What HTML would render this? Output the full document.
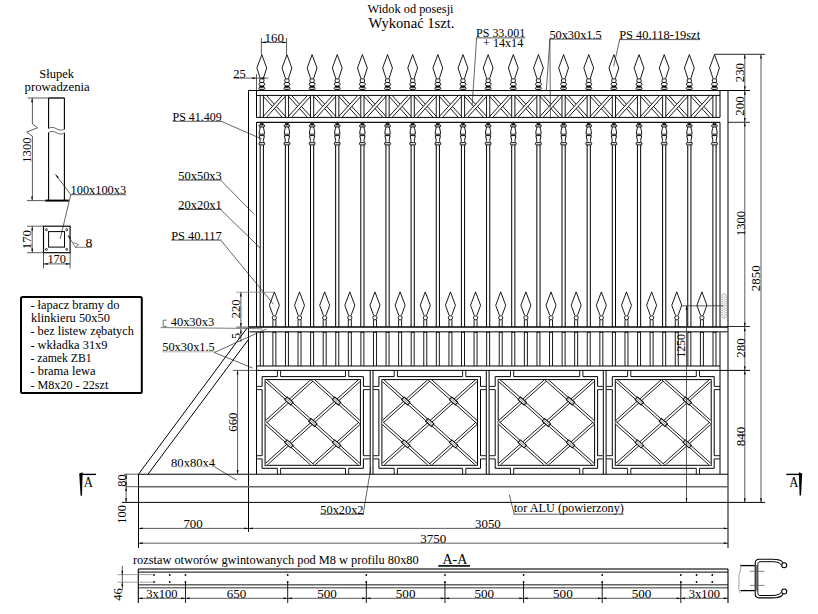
<!DOCTYPE html>
<html><head><meta charset="utf-8"><style>
html,body{margin:0;padding:0;background:#fff;}
svg{display:block;}
</style></head><body>
<svg width="818" height="614" viewBox="0 0 818 614">
<rect x="0" y="0" width="818" height="614" fill="#fff"/>
<text x="410.5" y="13.4" font-family="Liberation Serif" font-size="12" text-anchor="middle" fill="#000" font-weight="normal" textLength="86" lengthAdjust="spacingAndGlyphs">Widok od posesji</text>
<text x="411.5" y="27.9" font-family="Liberation Serif" font-size="15.5" text-anchor="middle" fill="#000" font-weight="normal" textLength="86" lengthAdjust="spacingAndGlyphs">Wykonać 1szt.</text>
<line x1="248.5" y1="90.5" x2="248.5" y2="532" stroke="#000" stroke-width="1"/>
<line x1="256.5" y1="90.5" x2="256.5" y2="117.4" stroke="#000" stroke-width="1"/>
<line x1="256.5" y1="122.3" x2="256.5" y2="327" stroke="#000" stroke-width="1"/>
<line x1="256.5" y1="331.8" x2="256.5" y2="474.2" stroke="#000" stroke-width="1"/>
<line x1="720" y1="90.5" x2="720" y2="117.4" stroke="#000" stroke-width="1"/>
<line x1="720" y1="122.3" x2="720" y2="327" stroke="#000" stroke-width="1"/>
<line x1="720" y1="331.8" x2="720" y2="474.2" stroke="#000" stroke-width="1"/>
<line x1="728" y1="90.5" x2="728" y2="548" stroke="#000" stroke-width="1"/>
<line x1="248.5" y1="90.5" x2="750" y2="90.5" stroke="#000" stroke-width="1"/>
<line x1="256.5" y1="95.4" x2="720" y2="95.4" stroke="#000" stroke-width="1"/>
<line x1="256.5" y1="117.4" x2="720" y2="117.4" stroke="#000" stroke-width="1"/>
<line x1="256.5" y1="122.3" x2="720" y2="122.3" stroke="#111" stroke-width="1.3"/>
<clipPath id="xc1"><rect x="263.4" y="95.9" width="21.95" height="21"/></clipPath>
<g clip-path="url(#xc1)">
<polygon points="261.09,93.91 285.51,120.84 287.66,118.89 263.24,91.96" fill="#fff"/>
<line x1="261.09" y1="93.91" x2="285.51" y2="120.84" stroke="#000" stroke-width="0.9"/>
<line x1="263.24" y1="91.96" x2="287.66" y2="118.89" stroke="#000" stroke-width="0.9"/>
<polygon points="263.24,120.84 287.66,93.91 285.51,91.96 261.09,118.89" fill="#fff"/>
<line x1="263.24" y1="120.84" x2="287.66" y2="93.91" stroke="#000" stroke-width="0.9"/>
<line x1="261.09" y1="118.89" x2="285.51" y2="91.96" stroke="#000" stroke-width="0.9"/>
</g>
<clipPath id="xc2"><rect x="288.55" y="95.9" width="21.95" height="21"/></clipPath>
<g clip-path="url(#xc2)">
<polygon points="286.24,93.91 310.66,120.84 312.81,118.89 288.39,91.96" fill="#fff"/>
<line x1="286.24" y1="93.91" x2="310.66" y2="120.84" stroke="#000" stroke-width="0.9"/>
<line x1="288.39" y1="91.96" x2="312.81" y2="118.89" stroke="#000" stroke-width="0.9"/>
<polygon points="288.39,120.84 312.81,93.91 310.66,91.96 286.24,118.89" fill="#fff"/>
<line x1="288.39" y1="120.84" x2="312.81" y2="93.91" stroke="#000" stroke-width="0.9"/>
<line x1="286.24" y1="118.89" x2="310.66" y2="91.96" stroke="#000" stroke-width="0.9"/>
</g>
<clipPath id="xc3"><rect x="313.7" y="95.9" width="21.95" height="21"/></clipPath>
<g clip-path="url(#xc3)">
<polygon points="311.39,93.91 335.81,120.84 337.96,118.89 313.54,91.96" fill="#fff"/>
<line x1="311.39" y1="93.91" x2="335.81" y2="120.84" stroke="#000" stroke-width="0.9"/>
<line x1="313.54" y1="91.96" x2="337.96" y2="118.89" stroke="#000" stroke-width="0.9"/>
<polygon points="313.54,120.84 337.96,93.91 335.81,91.96 311.39,118.89" fill="#fff"/>
<line x1="313.54" y1="120.84" x2="337.96" y2="93.91" stroke="#000" stroke-width="0.9"/>
<line x1="311.39" y1="118.89" x2="335.81" y2="91.96" stroke="#000" stroke-width="0.9"/>
</g>
<clipPath id="xc4"><rect x="338.85" y="95.9" width="21.95" height="21"/></clipPath>
<g clip-path="url(#xc4)">
<polygon points="336.54,93.91 360.96,120.84 363.11,118.89 338.69,91.96" fill="#fff"/>
<line x1="336.54" y1="93.91" x2="360.96" y2="120.84" stroke="#000" stroke-width="0.9"/>
<line x1="338.69" y1="91.96" x2="363.11" y2="118.89" stroke="#000" stroke-width="0.9"/>
<polygon points="338.69,120.84 363.11,93.91 360.96,91.96 336.54,118.89" fill="#fff"/>
<line x1="338.69" y1="120.84" x2="363.11" y2="93.91" stroke="#000" stroke-width="0.9"/>
<line x1="336.54" y1="118.89" x2="360.96" y2="91.96" stroke="#000" stroke-width="0.9"/>
</g>
<clipPath id="xc5"><rect x="364" y="95.9" width="21.95" height="21"/></clipPath>
<g clip-path="url(#xc5)">
<polygon points="361.69,93.91 386.11,120.84 388.26,118.89 363.84,91.96" fill="#fff"/>
<line x1="361.69" y1="93.91" x2="386.11" y2="120.84" stroke="#000" stroke-width="0.9"/>
<line x1="363.84" y1="91.96" x2="388.26" y2="118.89" stroke="#000" stroke-width="0.9"/>
<polygon points="363.84,120.84 388.26,93.91 386.11,91.96 361.69,118.89" fill="#fff"/>
<line x1="363.84" y1="120.84" x2="388.26" y2="93.91" stroke="#000" stroke-width="0.9"/>
<line x1="361.69" y1="118.89" x2="386.11" y2="91.96" stroke="#000" stroke-width="0.9"/>
</g>
<clipPath id="xc6"><rect x="389.15" y="95.9" width="21.95" height="21"/></clipPath>
<g clip-path="url(#xc6)">
<polygon points="386.84,93.91 411.26,120.84 413.41,118.89 388.99,91.96" fill="#fff"/>
<line x1="386.84" y1="93.91" x2="411.26" y2="120.84" stroke="#000" stroke-width="0.9"/>
<line x1="388.99" y1="91.96" x2="413.41" y2="118.89" stroke="#000" stroke-width="0.9"/>
<polygon points="388.99,120.84 413.41,93.91 411.26,91.96 386.84,118.89" fill="#fff"/>
<line x1="388.99" y1="120.84" x2="413.41" y2="93.91" stroke="#000" stroke-width="0.9"/>
<line x1="386.84" y1="118.89" x2="411.26" y2="91.96" stroke="#000" stroke-width="0.9"/>
</g>
<clipPath id="xc7"><rect x="414.3" y="95.9" width="21.95" height="21"/></clipPath>
<g clip-path="url(#xc7)">
<polygon points="411.99,93.91 436.41,120.84 438.56,118.89 414.14,91.96" fill="#fff"/>
<line x1="411.99" y1="93.91" x2="436.41" y2="120.84" stroke="#000" stroke-width="0.9"/>
<line x1="414.14" y1="91.96" x2="438.56" y2="118.89" stroke="#000" stroke-width="0.9"/>
<polygon points="414.14,120.84 438.56,93.91 436.41,91.96 411.99,118.89" fill="#fff"/>
<line x1="414.14" y1="120.84" x2="438.56" y2="93.91" stroke="#000" stroke-width="0.9"/>
<line x1="411.99" y1="118.89" x2="436.41" y2="91.96" stroke="#000" stroke-width="0.9"/>
</g>
<clipPath id="xc8"><rect x="439.45" y="95.9" width="21.95" height="21"/></clipPath>
<g clip-path="url(#xc8)">
<polygon points="437.14,93.91 461.56,120.84 463.71,118.89 439.29,91.96" fill="#fff"/>
<line x1="437.14" y1="93.91" x2="461.56" y2="120.84" stroke="#000" stroke-width="0.9"/>
<line x1="439.29" y1="91.96" x2="463.71" y2="118.89" stroke="#000" stroke-width="0.9"/>
<polygon points="439.29,120.84 463.71,93.91 461.56,91.96 437.14,118.89" fill="#fff"/>
<line x1="439.29" y1="120.84" x2="463.71" y2="93.91" stroke="#000" stroke-width="0.9"/>
<line x1="437.14" y1="118.89" x2="461.56" y2="91.96" stroke="#000" stroke-width="0.9"/>
</g>
<clipPath id="xc9"><rect x="464.6" y="95.9" width="21.95" height="21"/></clipPath>
<g clip-path="url(#xc9)">
<polygon points="462.29,93.91 486.71,120.84 488.86,118.89 464.44,91.96" fill="#fff"/>
<line x1="462.29" y1="93.91" x2="486.71" y2="120.84" stroke="#000" stroke-width="0.9"/>
<line x1="464.44" y1="91.96" x2="488.86" y2="118.89" stroke="#000" stroke-width="0.9"/>
<polygon points="464.44,120.84 488.86,93.91 486.71,91.96 462.29,118.89" fill="#fff"/>
<line x1="464.44" y1="120.84" x2="488.86" y2="93.91" stroke="#000" stroke-width="0.9"/>
<line x1="462.29" y1="118.89" x2="486.71" y2="91.96" stroke="#000" stroke-width="0.9"/>
</g>
<clipPath id="xc10"><rect x="489.75" y="95.9" width="21.95" height="21"/></clipPath>
<g clip-path="url(#xc10)">
<polygon points="487.44,93.91 511.86,120.84 514.01,118.89 489.59,91.96" fill="#fff"/>
<line x1="487.44" y1="93.91" x2="511.86" y2="120.84" stroke="#000" stroke-width="0.9"/>
<line x1="489.59" y1="91.96" x2="514.01" y2="118.89" stroke="#000" stroke-width="0.9"/>
<polygon points="489.59,120.84 514.01,93.91 511.86,91.96 487.44,118.89" fill="#fff"/>
<line x1="489.59" y1="120.84" x2="514.01" y2="93.91" stroke="#000" stroke-width="0.9"/>
<line x1="487.44" y1="118.89" x2="511.86" y2="91.96" stroke="#000" stroke-width="0.9"/>
</g>
<clipPath id="xc11"><rect x="514.9" y="95.9" width="21.95" height="21"/></clipPath>
<g clip-path="url(#xc11)">
<polygon points="512.59,93.91 537.01,120.84 539.16,118.89 514.74,91.96" fill="#fff"/>
<line x1="512.59" y1="93.91" x2="537.01" y2="120.84" stroke="#000" stroke-width="0.9"/>
<line x1="514.74" y1="91.96" x2="539.16" y2="118.89" stroke="#000" stroke-width="0.9"/>
<polygon points="514.74,120.84 539.16,93.91 537.01,91.96 512.59,118.89" fill="#fff"/>
<line x1="514.74" y1="120.84" x2="539.16" y2="93.91" stroke="#000" stroke-width="0.9"/>
<line x1="512.59" y1="118.89" x2="537.01" y2="91.96" stroke="#000" stroke-width="0.9"/>
</g>
<clipPath id="xc12"><rect x="540.05" y="95.9" width="21.95" height="21"/></clipPath>
<g clip-path="url(#xc12)">
<polygon points="537.74,93.91 562.16,120.84 564.31,118.89 539.89,91.96" fill="#fff"/>
<line x1="537.74" y1="93.91" x2="562.16" y2="120.84" stroke="#000" stroke-width="0.9"/>
<line x1="539.89" y1="91.96" x2="564.31" y2="118.89" stroke="#000" stroke-width="0.9"/>
<polygon points="539.89,120.84 564.31,93.91 562.16,91.96 537.74,118.89" fill="#fff"/>
<line x1="539.89" y1="120.84" x2="564.31" y2="93.91" stroke="#000" stroke-width="0.9"/>
<line x1="537.74" y1="118.89" x2="562.16" y2="91.96" stroke="#000" stroke-width="0.9"/>
</g>
<clipPath id="xc13"><rect x="565.2" y="95.9" width="21.95" height="21"/></clipPath>
<g clip-path="url(#xc13)">
<polygon points="562.89,93.91 587.31,120.84 589.46,118.89 565.04,91.96" fill="#fff"/>
<line x1="562.89" y1="93.91" x2="587.31" y2="120.84" stroke="#000" stroke-width="0.9"/>
<line x1="565.04" y1="91.96" x2="589.46" y2="118.89" stroke="#000" stroke-width="0.9"/>
<polygon points="565.04,120.84 589.46,93.91 587.31,91.96 562.89,118.89" fill="#fff"/>
<line x1="565.04" y1="120.84" x2="589.46" y2="93.91" stroke="#000" stroke-width="0.9"/>
<line x1="562.89" y1="118.89" x2="587.31" y2="91.96" stroke="#000" stroke-width="0.9"/>
</g>
<clipPath id="xc14"><rect x="590.35" y="95.9" width="21.95" height="21"/></clipPath>
<g clip-path="url(#xc14)">
<polygon points="588.04,93.91 612.46,120.84 614.61,118.89 590.19,91.96" fill="#fff"/>
<line x1="588.04" y1="93.91" x2="612.46" y2="120.84" stroke="#000" stroke-width="0.9"/>
<line x1="590.19" y1="91.96" x2="614.61" y2="118.89" stroke="#000" stroke-width="0.9"/>
<polygon points="590.19,120.84 614.61,93.91 612.46,91.96 588.04,118.89" fill="#fff"/>
<line x1="590.19" y1="120.84" x2="614.61" y2="93.91" stroke="#000" stroke-width="0.9"/>
<line x1="588.04" y1="118.89" x2="612.46" y2="91.96" stroke="#000" stroke-width="0.9"/>
</g>
<clipPath id="xc15"><rect x="615.5" y="95.9" width="21.95" height="21"/></clipPath>
<g clip-path="url(#xc15)">
<polygon points="613.19,93.91 637.61,120.84 639.76,118.89 615.34,91.96" fill="#fff"/>
<line x1="613.19" y1="93.91" x2="637.61" y2="120.84" stroke="#000" stroke-width="0.9"/>
<line x1="615.34" y1="91.96" x2="639.76" y2="118.89" stroke="#000" stroke-width="0.9"/>
<polygon points="615.34,120.84 639.76,93.91 637.61,91.96 613.19,118.89" fill="#fff"/>
<line x1="615.34" y1="120.84" x2="639.76" y2="93.91" stroke="#000" stroke-width="0.9"/>
<line x1="613.19" y1="118.89" x2="637.61" y2="91.96" stroke="#000" stroke-width="0.9"/>
</g>
<clipPath id="xc16"><rect x="640.65" y="95.9" width="21.95" height="21"/></clipPath>
<g clip-path="url(#xc16)">
<polygon points="638.34,93.91 662.76,120.84 664.91,118.89 640.49,91.96" fill="#fff"/>
<line x1="638.34" y1="93.91" x2="662.76" y2="120.84" stroke="#000" stroke-width="0.9"/>
<line x1="640.49" y1="91.96" x2="664.91" y2="118.89" stroke="#000" stroke-width="0.9"/>
<polygon points="640.49,120.84 664.91,93.91 662.76,91.96 638.34,118.89" fill="#fff"/>
<line x1="640.49" y1="120.84" x2="664.91" y2="93.91" stroke="#000" stroke-width="0.9"/>
<line x1="638.34" y1="118.89" x2="662.76" y2="91.96" stroke="#000" stroke-width="0.9"/>
</g>
<clipPath id="xc17"><rect x="665.8" y="95.9" width="21.95" height="21"/></clipPath>
<g clip-path="url(#xc17)">
<polygon points="663.49,93.91 687.91,120.84 690.06,118.89 665.64,91.96" fill="#fff"/>
<line x1="663.49" y1="93.91" x2="687.91" y2="120.84" stroke="#000" stroke-width="0.9"/>
<line x1="665.64" y1="91.96" x2="690.06" y2="118.89" stroke="#000" stroke-width="0.9"/>
<polygon points="665.64,120.84 690.06,93.91 687.91,91.96 663.49,118.89" fill="#fff"/>
<line x1="665.64" y1="120.84" x2="690.06" y2="93.91" stroke="#000" stroke-width="0.9"/>
<line x1="663.49" y1="118.89" x2="687.91" y2="91.96" stroke="#000" stroke-width="0.9"/>
</g>
<clipPath id="xc18"><rect x="690.95" y="95.9" width="21.95" height="21"/></clipPath>
<g clip-path="url(#xc18)">
<polygon points="688.64,93.91 713.06,120.84 715.21,118.89 690.79,91.96" fill="#fff"/>
<line x1="688.64" y1="93.91" x2="713.06" y2="120.84" stroke="#000" stroke-width="0.9"/>
<line x1="690.79" y1="91.96" x2="715.21" y2="118.89" stroke="#000" stroke-width="0.9"/>
<polygon points="690.79,120.84 715.21,93.91 713.06,91.96 688.64,118.89" fill="#fff"/>
<line x1="690.79" y1="120.84" x2="715.21" y2="93.91" stroke="#000" stroke-width="0.9"/>
<line x1="688.64" y1="118.89" x2="713.06" y2="91.96" stroke="#000" stroke-width="0.9"/>
</g>
<line x1="260.2" y1="95.4" x2="260.2" y2="117.4" stroke="#000" stroke-width="0.9"/>
<line x1="263.4" y1="95.4" x2="263.4" y2="117.4" stroke="#000" stroke-width="0.9"/>
<line x1="285.35" y1="95.4" x2="285.35" y2="117.4" stroke="#000" stroke-width="0.9"/>
<line x1="288.55" y1="95.4" x2="288.55" y2="117.4" stroke="#000" stroke-width="0.9"/>
<line x1="310.5" y1="95.4" x2="310.5" y2="117.4" stroke="#000" stroke-width="0.9"/>
<line x1="313.7" y1="95.4" x2="313.7" y2="117.4" stroke="#000" stroke-width="0.9"/>
<line x1="335.65" y1="95.4" x2="335.65" y2="117.4" stroke="#000" stroke-width="0.9"/>
<line x1="338.85" y1="95.4" x2="338.85" y2="117.4" stroke="#000" stroke-width="0.9"/>
<line x1="360.8" y1="95.4" x2="360.8" y2="117.4" stroke="#000" stroke-width="0.9"/>
<line x1="364" y1="95.4" x2="364" y2="117.4" stroke="#000" stroke-width="0.9"/>
<line x1="385.95" y1="95.4" x2="385.95" y2="117.4" stroke="#000" stroke-width="0.9"/>
<line x1="389.15" y1="95.4" x2="389.15" y2="117.4" stroke="#000" stroke-width="0.9"/>
<line x1="411.1" y1="95.4" x2="411.1" y2="117.4" stroke="#000" stroke-width="0.9"/>
<line x1="414.3" y1="95.4" x2="414.3" y2="117.4" stroke="#000" stroke-width="0.9"/>
<line x1="436.25" y1="95.4" x2="436.25" y2="117.4" stroke="#000" stroke-width="0.9"/>
<line x1="439.45" y1="95.4" x2="439.45" y2="117.4" stroke="#000" stroke-width="0.9"/>
<line x1="461.4" y1="95.4" x2="461.4" y2="117.4" stroke="#000" stroke-width="0.9"/>
<line x1="464.6" y1="95.4" x2="464.6" y2="117.4" stroke="#000" stroke-width="0.9"/>
<line x1="486.55" y1="95.4" x2="486.55" y2="117.4" stroke="#000" stroke-width="0.9"/>
<line x1="489.75" y1="95.4" x2="489.75" y2="117.4" stroke="#000" stroke-width="0.9"/>
<line x1="511.7" y1="95.4" x2="511.7" y2="117.4" stroke="#000" stroke-width="0.9"/>
<line x1="514.9" y1="95.4" x2="514.9" y2="117.4" stroke="#000" stroke-width="0.9"/>
<line x1="536.85" y1="95.4" x2="536.85" y2="117.4" stroke="#000" stroke-width="0.9"/>
<line x1="540.05" y1="95.4" x2="540.05" y2="117.4" stroke="#000" stroke-width="0.9"/>
<line x1="562" y1="95.4" x2="562" y2="117.4" stroke="#000" stroke-width="0.9"/>
<line x1="565.2" y1="95.4" x2="565.2" y2="117.4" stroke="#000" stroke-width="0.9"/>
<line x1="587.15" y1="95.4" x2="587.15" y2="117.4" stroke="#000" stroke-width="0.9"/>
<line x1="590.35" y1="95.4" x2="590.35" y2="117.4" stroke="#000" stroke-width="0.9"/>
<line x1="612.3" y1="95.4" x2="612.3" y2="117.4" stroke="#000" stroke-width="0.9"/>
<line x1="615.5" y1="95.4" x2="615.5" y2="117.4" stroke="#000" stroke-width="0.9"/>
<line x1="637.45" y1="95.4" x2="637.45" y2="117.4" stroke="#000" stroke-width="0.9"/>
<line x1="640.65" y1="95.4" x2="640.65" y2="117.4" stroke="#000" stroke-width="0.9"/>
<line x1="662.6" y1="95.4" x2="662.6" y2="117.4" stroke="#000" stroke-width="0.9"/>
<line x1="665.8" y1="95.4" x2="665.8" y2="117.4" stroke="#000" stroke-width="0.9"/>
<line x1="687.75" y1="95.4" x2="687.75" y2="117.4" stroke="#000" stroke-width="0.9"/>
<line x1="690.95" y1="95.4" x2="690.95" y2="117.4" stroke="#000" stroke-width="0.9"/>
<line x1="712.9" y1="95.4" x2="712.9" y2="117.4" stroke="#000" stroke-width="0.9"/>
<line x1="716.1" y1="95.4" x2="716.1" y2="117.4" stroke="#000" stroke-width="0.9"/>
<polyline points="260.4,78.8 256.9,68 261.8,54.6 266.7,68 263.2,78.8" fill="none" stroke="#000" stroke-width="0.9"/>
<rect x="259.7" y="78.9" width="4.2" height="3.5" rx="0.9" fill="#fff" stroke="#000" stroke-width="0.9"/>
<ellipse cx="261.8" cy="84.2" rx="3.0" ry="1.8" fill="#fff" stroke="#000" stroke-width="0.9"/>
<rect x="259.5" y="86.0" width="4.6" height="1.3" fill="#000"/>
<rect x="258.8" y="87.3" width="6.0" height="2.0" rx="1" fill="#fff" stroke="#000" stroke-width="0.9"/>
<rect x="259.4" y="89.3" width="4.8" height="1.0" fill="#222"/>
<polyline points="285.55,78.8 282.05,68 286.95,54.6 291.85,68 288.35,78.8" fill="none" stroke="#000" stroke-width="0.9"/>
<rect x="284.85" y="78.9" width="4.2" height="3.5" rx="0.9" fill="#fff" stroke="#000" stroke-width="0.9"/>
<ellipse cx="286.95" cy="84.2" rx="3.0" ry="1.8" fill="#fff" stroke="#000" stroke-width="0.9"/>
<rect x="284.65" y="86.0" width="4.6" height="1.3" fill="#000"/>
<rect x="283.95" y="87.3" width="6.0" height="2.0" rx="1" fill="#fff" stroke="#000" stroke-width="0.9"/>
<rect x="284.55" y="89.3" width="4.8" height="1.0" fill="#222"/>
<polyline points="310.7,78.8 307.2,68 312.1,54.6 317,68 313.5,78.8" fill="none" stroke="#000" stroke-width="0.9"/>
<rect x="310" y="78.9" width="4.2" height="3.5" rx="0.9" fill="#fff" stroke="#000" stroke-width="0.9"/>
<ellipse cx="312.1" cy="84.2" rx="3.0" ry="1.8" fill="#fff" stroke="#000" stroke-width="0.9"/>
<rect x="309.8" y="86.0" width="4.6" height="1.3" fill="#000"/>
<rect x="309.1" y="87.3" width="6.0" height="2.0" rx="1" fill="#fff" stroke="#000" stroke-width="0.9"/>
<rect x="309.7" y="89.3" width="4.8" height="1.0" fill="#222"/>
<polyline points="335.85,78.8 332.35,68 337.25,54.6 342.15,68 338.65,78.8" fill="none" stroke="#000" stroke-width="0.9"/>
<rect x="335.15" y="78.9" width="4.2" height="3.5" rx="0.9" fill="#fff" stroke="#000" stroke-width="0.9"/>
<ellipse cx="337.25" cy="84.2" rx="3.0" ry="1.8" fill="#fff" stroke="#000" stroke-width="0.9"/>
<rect x="334.95" y="86.0" width="4.6" height="1.3" fill="#000"/>
<rect x="334.25" y="87.3" width="6.0" height="2.0" rx="1" fill="#fff" stroke="#000" stroke-width="0.9"/>
<rect x="334.85" y="89.3" width="4.8" height="1.0" fill="#222"/>
<polyline points="361,78.8 357.5,68 362.4,54.6 367.3,68 363.8,78.8" fill="none" stroke="#000" stroke-width="0.9"/>
<rect x="360.3" y="78.9" width="4.2" height="3.5" rx="0.9" fill="#fff" stroke="#000" stroke-width="0.9"/>
<ellipse cx="362.4" cy="84.2" rx="3.0" ry="1.8" fill="#fff" stroke="#000" stroke-width="0.9"/>
<rect x="360.1" y="86.0" width="4.6" height="1.3" fill="#000"/>
<rect x="359.4" y="87.3" width="6.0" height="2.0" rx="1" fill="#fff" stroke="#000" stroke-width="0.9"/>
<rect x="360" y="89.3" width="4.8" height="1.0" fill="#222"/>
<polyline points="386.15,78.8 382.65,68 387.55,54.6 392.45,68 388.95,78.8" fill="none" stroke="#000" stroke-width="0.9"/>
<rect x="385.45" y="78.9" width="4.2" height="3.5" rx="0.9" fill="#fff" stroke="#000" stroke-width="0.9"/>
<ellipse cx="387.55" cy="84.2" rx="3.0" ry="1.8" fill="#fff" stroke="#000" stroke-width="0.9"/>
<rect x="385.25" y="86.0" width="4.6" height="1.3" fill="#000"/>
<rect x="384.55" y="87.3" width="6.0" height="2.0" rx="1" fill="#fff" stroke="#000" stroke-width="0.9"/>
<rect x="385.15" y="89.3" width="4.8" height="1.0" fill="#222"/>
<polyline points="411.3,78.8 407.8,68 412.7,54.6 417.6,68 414.1,78.8" fill="none" stroke="#000" stroke-width="0.9"/>
<rect x="410.6" y="78.9" width="4.2" height="3.5" rx="0.9" fill="#fff" stroke="#000" stroke-width="0.9"/>
<ellipse cx="412.7" cy="84.2" rx="3.0" ry="1.8" fill="#fff" stroke="#000" stroke-width="0.9"/>
<rect x="410.4" y="86.0" width="4.6" height="1.3" fill="#000"/>
<rect x="409.7" y="87.3" width="6.0" height="2.0" rx="1" fill="#fff" stroke="#000" stroke-width="0.9"/>
<rect x="410.3" y="89.3" width="4.8" height="1.0" fill="#222"/>
<polyline points="436.45,78.8 432.95,68 437.85,54.6 442.75,68 439.25,78.8" fill="none" stroke="#000" stroke-width="0.9"/>
<rect x="435.75" y="78.9" width="4.2" height="3.5" rx="0.9" fill="#fff" stroke="#000" stroke-width="0.9"/>
<ellipse cx="437.85" cy="84.2" rx="3.0" ry="1.8" fill="#fff" stroke="#000" stroke-width="0.9"/>
<rect x="435.55" y="86.0" width="4.6" height="1.3" fill="#000"/>
<rect x="434.85" y="87.3" width="6.0" height="2.0" rx="1" fill="#fff" stroke="#000" stroke-width="0.9"/>
<rect x="435.45" y="89.3" width="4.8" height="1.0" fill="#222"/>
<polyline points="461.6,78.8 458.1,68 463,54.6 467.9,68 464.4,78.8" fill="none" stroke="#000" stroke-width="0.9"/>
<rect x="460.9" y="78.9" width="4.2" height="3.5" rx="0.9" fill="#fff" stroke="#000" stroke-width="0.9"/>
<ellipse cx="463" cy="84.2" rx="3.0" ry="1.8" fill="#fff" stroke="#000" stroke-width="0.9"/>
<rect x="460.7" y="86.0" width="4.6" height="1.3" fill="#000"/>
<rect x="460" y="87.3" width="6.0" height="2.0" rx="1" fill="#fff" stroke="#000" stroke-width="0.9"/>
<rect x="460.6" y="89.3" width="4.8" height="1.0" fill="#222"/>
<polyline points="486.75,78.8 483.25,68 488.15,54.6 493.05,68 489.55,78.8" fill="none" stroke="#000" stroke-width="0.9"/>
<rect x="486.05" y="78.9" width="4.2" height="3.5" rx="0.9" fill="#fff" stroke="#000" stroke-width="0.9"/>
<ellipse cx="488.15" cy="84.2" rx="3.0" ry="1.8" fill="#fff" stroke="#000" stroke-width="0.9"/>
<rect x="485.85" y="86.0" width="4.6" height="1.3" fill="#000"/>
<rect x="485.15" y="87.3" width="6.0" height="2.0" rx="1" fill="#fff" stroke="#000" stroke-width="0.9"/>
<rect x="485.75" y="89.3" width="4.8" height="1.0" fill="#222"/>
<polyline points="511.9,78.8 508.4,68 513.3,54.6 518.2,68 514.7,78.8" fill="none" stroke="#000" stroke-width="0.9"/>
<rect x="511.2" y="78.9" width="4.2" height="3.5" rx="0.9" fill="#fff" stroke="#000" stroke-width="0.9"/>
<ellipse cx="513.3" cy="84.2" rx="3.0" ry="1.8" fill="#fff" stroke="#000" stroke-width="0.9"/>
<rect x="511" y="86.0" width="4.6" height="1.3" fill="#000"/>
<rect x="510.3" y="87.3" width="6.0" height="2.0" rx="1" fill="#fff" stroke="#000" stroke-width="0.9"/>
<rect x="510.9" y="89.3" width="4.8" height="1.0" fill="#222"/>
<polyline points="537.05,78.8 533.55,68 538.45,54.6 543.35,68 539.85,78.8" fill="none" stroke="#000" stroke-width="0.9"/>
<rect x="536.35" y="78.9" width="4.2" height="3.5" rx="0.9" fill="#fff" stroke="#000" stroke-width="0.9"/>
<ellipse cx="538.45" cy="84.2" rx="3.0" ry="1.8" fill="#fff" stroke="#000" stroke-width="0.9"/>
<rect x="536.15" y="86.0" width="4.6" height="1.3" fill="#000"/>
<rect x="535.45" y="87.3" width="6.0" height="2.0" rx="1" fill="#fff" stroke="#000" stroke-width="0.9"/>
<rect x="536.05" y="89.3" width="4.8" height="1.0" fill="#222"/>
<polyline points="562.2,78.8 558.7,68 563.6,54.6 568.5,68 565,78.8" fill="none" stroke="#000" stroke-width="0.9"/>
<rect x="561.5" y="78.9" width="4.2" height="3.5" rx="0.9" fill="#fff" stroke="#000" stroke-width="0.9"/>
<ellipse cx="563.6" cy="84.2" rx="3.0" ry="1.8" fill="#fff" stroke="#000" stroke-width="0.9"/>
<rect x="561.3" y="86.0" width="4.6" height="1.3" fill="#000"/>
<rect x="560.6" y="87.3" width="6.0" height="2.0" rx="1" fill="#fff" stroke="#000" stroke-width="0.9"/>
<rect x="561.2" y="89.3" width="4.8" height="1.0" fill="#222"/>
<polyline points="587.35,78.8 583.85,68 588.75,54.6 593.65,68 590.15,78.8" fill="none" stroke="#000" stroke-width="0.9"/>
<rect x="586.65" y="78.9" width="4.2" height="3.5" rx="0.9" fill="#fff" stroke="#000" stroke-width="0.9"/>
<ellipse cx="588.75" cy="84.2" rx="3.0" ry="1.8" fill="#fff" stroke="#000" stroke-width="0.9"/>
<rect x="586.45" y="86.0" width="4.6" height="1.3" fill="#000"/>
<rect x="585.75" y="87.3" width="6.0" height="2.0" rx="1" fill="#fff" stroke="#000" stroke-width="0.9"/>
<rect x="586.35" y="89.3" width="4.8" height="1.0" fill="#222"/>
<polyline points="612.5,78.8 609,68 613.9,54.6 618.8,68 615.3,78.8" fill="none" stroke="#000" stroke-width="0.9"/>
<rect x="611.8" y="78.9" width="4.2" height="3.5" rx="0.9" fill="#fff" stroke="#000" stroke-width="0.9"/>
<ellipse cx="613.9" cy="84.2" rx="3.0" ry="1.8" fill="#fff" stroke="#000" stroke-width="0.9"/>
<rect x="611.6" y="86.0" width="4.6" height="1.3" fill="#000"/>
<rect x="610.9" y="87.3" width="6.0" height="2.0" rx="1" fill="#fff" stroke="#000" stroke-width="0.9"/>
<rect x="611.5" y="89.3" width="4.8" height="1.0" fill="#222"/>
<polyline points="637.65,78.8 634.15,68 639.05,54.6 643.95,68 640.45,78.8" fill="none" stroke="#000" stroke-width="0.9"/>
<rect x="636.95" y="78.9" width="4.2" height="3.5" rx="0.9" fill="#fff" stroke="#000" stroke-width="0.9"/>
<ellipse cx="639.05" cy="84.2" rx="3.0" ry="1.8" fill="#fff" stroke="#000" stroke-width="0.9"/>
<rect x="636.75" y="86.0" width="4.6" height="1.3" fill="#000"/>
<rect x="636.05" y="87.3" width="6.0" height="2.0" rx="1" fill="#fff" stroke="#000" stroke-width="0.9"/>
<rect x="636.65" y="89.3" width="4.8" height="1.0" fill="#222"/>
<polyline points="662.8,78.8 659.3,68 664.2,54.6 669.1,68 665.6,78.8" fill="none" stroke="#000" stroke-width="0.9"/>
<rect x="662.1" y="78.9" width="4.2" height="3.5" rx="0.9" fill="#fff" stroke="#000" stroke-width="0.9"/>
<ellipse cx="664.2" cy="84.2" rx="3.0" ry="1.8" fill="#fff" stroke="#000" stroke-width="0.9"/>
<rect x="661.9" y="86.0" width="4.6" height="1.3" fill="#000"/>
<rect x="661.2" y="87.3" width="6.0" height="2.0" rx="1" fill="#fff" stroke="#000" stroke-width="0.9"/>
<rect x="661.8" y="89.3" width="4.8" height="1.0" fill="#222"/>
<polyline points="687.95,78.8 684.45,68 689.35,54.6 694.25,68 690.75,78.8" fill="none" stroke="#000" stroke-width="0.9"/>
<rect x="687.25" y="78.9" width="4.2" height="3.5" rx="0.9" fill="#fff" stroke="#000" stroke-width="0.9"/>
<ellipse cx="689.35" cy="84.2" rx="3.0" ry="1.8" fill="#fff" stroke="#000" stroke-width="0.9"/>
<rect x="687.05" y="86.0" width="4.6" height="1.3" fill="#000"/>
<rect x="686.35" y="87.3" width="6.0" height="2.0" rx="1" fill="#fff" stroke="#000" stroke-width="0.9"/>
<rect x="686.95" y="89.3" width="4.8" height="1.0" fill="#222"/>
<polyline points="713.1,78.8 709.6,68 714.5,54.6 719.4,68 715.9,78.8" fill="none" stroke="#000" stroke-width="0.9"/>
<rect x="712.4" y="78.9" width="4.2" height="3.5" rx="0.9" fill="#fff" stroke="#000" stroke-width="0.9"/>
<ellipse cx="714.5" cy="84.2" rx="3.0" ry="1.8" fill="#fff" stroke="#000" stroke-width="0.9"/>
<rect x="712.2" y="86.0" width="4.6" height="1.3" fill="#000"/>
<rect x="711.5" y="87.3" width="6.0" height="2.0" rx="1" fill="#fff" stroke="#000" stroke-width="0.9"/>
<rect x="712.1" y="89.3" width="4.8" height="1.0" fill="#222"/>
<rect x="260" y="122.9" width="3.6" height="2.2" fill="#333"/>
<rect x="258.9" y="124.9" width="5.8" height="2.0" rx="1" fill="none" stroke="#000" stroke-width="0.95"/>
<path d="M260.3,126.9 C259.9,129.5 259,131 259.2,134.2 L264.4,134.2 C264.6,131 263.7,129.5 263.3,126.9" fill="none" stroke="#000" stroke-width="0.95"/>
<path d="M259.2,135.6 C259.2,137.5 260.2,138.6 260.2,140.4 C260.2,141.4 259.7,142 259.4,142.7 M264.4,135.6 C264.4,137.5 263.4,138.6 263.4,140.4 C263.4,141.4 263.9,142 264.2,142.7" fill="none" stroke="#000" stroke-width="0.95"/>
<line x1="259.2" y1="135.6" x2="264.4" y2="135.6" stroke="#000" stroke-width="0.95"/>
<rect x="258.8" y="142.7" width="6.0" height="2.2" rx="1.1" fill="none" stroke="#000" stroke-width="0.95"/>
<line x1="260.2" y1="144.9" x2="260.2" y2="327" stroke="#000" stroke-width="1"/>
<line x1="263.4" y1="144.9" x2="263.4" y2="327" stroke="#000" stroke-width="1"/>
<rect x="285.15" y="122.9" width="3.6" height="2.2" fill="#333"/>
<rect x="284.05" y="124.9" width="5.8" height="2.0" rx="1" fill="none" stroke="#000" stroke-width="0.95"/>
<path d="M285.45,126.9 C285.05,129.5 284.15,131 284.35,134.2 L289.55,134.2 C289.75,131 288.85,129.5 288.45,126.9" fill="none" stroke="#000" stroke-width="0.95"/>
<path d="M284.35,135.6 C284.35,137.5 285.35,138.6 285.35,140.4 C285.35,141.4 284.85,142 284.55,142.7 M289.55,135.6 C289.55,137.5 288.55,138.6 288.55,140.4 C288.55,141.4 289.05,142 289.35,142.7" fill="none" stroke="#000" stroke-width="0.95"/>
<line x1="284.35" y1="135.6" x2="289.55" y2="135.6" stroke="#000" stroke-width="0.95"/>
<rect x="283.95" y="142.7" width="6.0" height="2.2" rx="1.1" fill="none" stroke="#000" stroke-width="0.95"/>
<line x1="285.35" y1="144.9" x2="285.35" y2="327" stroke="#000" stroke-width="1"/>
<line x1="288.55" y1="144.9" x2="288.55" y2="327" stroke="#000" stroke-width="1"/>
<rect x="310.3" y="122.9" width="3.6" height="2.2" fill="#333"/>
<rect x="309.2" y="124.9" width="5.8" height="2.0" rx="1" fill="none" stroke="#000" stroke-width="0.95"/>
<path d="M310.6,126.9 C310.2,129.5 309.3,131 309.5,134.2 L314.7,134.2 C314.9,131 314,129.5 313.6,126.9" fill="none" stroke="#000" stroke-width="0.95"/>
<path d="M309.5,135.6 C309.5,137.5 310.5,138.6 310.5,140.4 C310.5,141.4 310,142 309.7,142.7 M314.7,135.6 C314.7,137.5 313.7,138.6 313.7,140.4 C313.7,141.4 314.2,142 314.5,142.7" fill="none" stroke="#000" stroke-width="0.95"/>
<line x1="309.5" y1="135.6" x2="314.7" y2="135.6" stroke="#000" stroke-width="0.95"/>
<rect x="309.1" y="142.7" width="6.0" height="2.2" rx="1.1" fill="none" stroke="#000" stroke-width="0.95"/>
<line x1="310.5" y1="144.9" x2="310.5" y2="327" stroke="#000" stroke-width="1"/>
<line x1="313.7" y1="144.9" x2="313.7" y2="327" stroke="#000" stroke-width="1"/>
<rect x="335.45" y="122.9" width="3.6" height="2.2" fill="#333"/>
<rect x="334.35" y="124.9" width="5.8" height="2.0" rx="1" fill="none" stroke="#000" stroke-width="0.95"/>
<path d="M335.75,126.9 C335.35,129.5 334.45,131 334.65,134.2 L339.85,134.2 C340.05,131 339.15,129.5 338.75,126.9" fill="none" stroke="#000" stroke-width="0.95"/>
<path d="M334.65,135.6 C334.65,137.5 335.65,138.6 335.65,140.4 C335.65,141.4 335.15,142 334.85,142.7 M339.85,135.6 C339.85,137.5 338.85,138.6 338.85,140.4 C338.85,141.4 339.35,142 339.65,142.7" fill="none" stroke="#000" stroke-width="0.95"/>
<line x1="334.65" y1="135.6" x2="339.85" y2="135.6" stroke="#000" stroke-width="0.95"/>
<rect x="334.25" y="142.7" width="6.0" height="2.2" rx="1.1" fill="none" stroke="#000" stroke-width="0.95"/>
<line x1="335.65" y1="144.9" x2="335.65" y2="327" stroke="#000" stroke-width="1"/>
<line x1="338.85" y1="144.9" x2="338.85" y2="327" stroke="#000" stroke-width="1"/>
<rect x="360.6" y="122.9" width="3.6" height="2.2" fill="#333"/>
<rect x="359.5" y="124.9" width="5.8" height="2.0" rx="1" fill="none" stroke="#000" stroke-width="0.95"/>
<path d="M360.9,126.9 C360.5,129.5 359.6,131 359.8,134.2 L365,134.2 C365.2,131 364.3,129.5 363.9,126.9" fill="none" stroke="#000" stroke-width="0.95"/>
<path d="M359.8,135.6 C359.8,137.5 360.8,138.6 360.8,140.4 C360.8,141.4 360.3,142 360,142.7 M365,135.6 C365,137.5 364,138.6 364,140.4 C364,141.4 364.5,142 364.8,142.7" fill="none" stroke="#000" stroke-width="0.95"/>
<line x1="359.8" y1="135.6" x2="365" y2="135.6" stroke="#000" stroke-width="0.95"/>
<rect x="359.4" y="142.7" width="6.0" height="2.2" rx="1.1" fill="none" stroke="#000" stroke-width="0.95"/>
<line x1="360.8" y1="144.9" x2="360.8" y2="327" stroke="#000" stroke-width="1"/>
<line x1="364" y1="144.9" x2="364" y2="327" stroke="#000" stroke-width="1"/>
<rect x="385.75" y="122.9" width="3.6" height="2.2" fill="#333"/>
<rect x="384.65" y="124.9" width="5.8" height="2.0" rx="1" fill="none" stroke="#000" stroke-width="0.95"/>
<path d="M386.05,126.9 C385.65,129.5 384.75,131 384.95,134.2 L390.15,134.2 C390.35,131 389.45,129.5 389.05,126.9" fill="none" stroke="#000" stroke-width="0.95"/>
<path d="M384.95,135.6 C384.95,137.5 385.95,138.6 385.95,140.4 C385.95,141.4 385.45,142 385.15,142.7 M390.15,135.6 C390.15,137.5 389.15,138.6 389.15,140.4 C389.15,141.4 389.65,142 389.95,142.7" fill="none" stroke="#000" stroke-width="0.95"/>
<line x1="384.95" y1="135.6" x2="390.15" y2="135.6" stroke="#000" stroke-width="0.95"/>
<rect x="384.55" y="142.7" width="6.0" height="2.2" rx="1.1" fill="none" stroke="#000" stroke-width="0.95"/>
<line x1="385.95" y1="144.9" x2="385.95" y2="327" stroke="#000" stroke-width="1"/>
<line x1="389.15" y1="144.9" x2="389.15" y2="327" stroke="#000" stroke-width="1"/>
<rect x="410.9" y="122.9" width="3.6" height="2.2" fill="#333"/>
<rect x="409.8" y="124.9" width="5.8" height="2.0" rx="1" fill="none" stroke="#000" stroke-width="0.95"/>
<path d="M411.2,126.9 C410.8,129.5 409.9,131 410.1,134.2 L415.3,134.2 C415.5,131 414.6,129.5 414.2,126.9" fill="none" stroke="#000" stroke-width="0.95"/>
<path d="M410.1,135.6 C410.1,137.5 411.1,138.6 411.1,140.4 C411.1,141.4 410.6,142 410.3,142.7 M415.3,135.6 C415.3,137.5 414.3,138.6 414.3,140.4 C414.3,141.4 414.8,142 415.1,142.7" fill="none" stroke="#000" stroke-width="0.95"/>
<line x1="410.1" y1="135.6" x2="415.3" y2="135.6" stroke="#000" stroke-width="0.95"/>
<rect x="409.7" y="142.7" width="6.0" height="2.2" rx="1.1" fill="none" stroke="#000" stroke-width="0.95"/>
<line x1="411.1" y1="144.9" x2="411.1" y2="327" stroke="#000" stroke-width="1"/>
<line x1="414.3" y1="144.9" x2="414.3" y2="327" stroke="#000" stroke-width="1"/>
<rect x="436.05" y="122.9" width="3.6" height="2.2" fill="#333"/>
<rect x="434.95" y="124.9" width="5.8" height="2.0" rx="1" fill="none" stroke="#000" stroke-width="0.95"/>
<path d="M436.35,126.9 C435.95,129.5 435.05,131 435.25,134.2 L440.45,134.2 C440.65,131 439.75,129.5 439.35,126.9" fill="none" stroke="#000" stroke-width="0.95"/>
<path d="M435.25,135.6 C435.25,137.5 436.25,138.6 436.25,140.4 C436.25,141.4 435.75,142 435.45,142.7 M440.45,135.6 C440.45,137.5 439.45,138.6 439.45,140.4 C439.45,141.4 439.95,142 440.25,142.7" fill="none" stroke="#000" stroke-width="0.95"/>
<line x1="435.25" y1="135.6" x2="440.45" y2="135.6" stroke="#000" stroke-width="0.95"/>
<rect x="434.85" y="142.7" width="6.0" height="2.2" rx="1.1" fill="none" stroke="#000" stroke-width="0.95"/>
<line x1="436.25" y1="144.9" x2="436.25" y2="327" stroke="#000" stroke-width="1"/>
<line x1="439.45" y1="144.9" x2="439.45" y2="327" stroke="#000" stroke-width="1"/>
<rect x="461.2" y="122.9" width="3.6" height="2.2" fill="#333"/>
<rect x="460.1" y="124.9" width="5.8" height="2.0" rx="1" fill="none" stroke="#000" stroke-width="0.95"/>
<path d="M461.5,126.9 C461.1,129.5 460.2,131 460.4,134.2 L465.6,134.2 C465.8,131 464.9,129.5 464.5,126.9" fill="none" stroke="#000" stroke-width="0.95"/>
<path d="M460.4,135.6 C460.4,137.5 461.4,138.6 461.4,140.4 C461.4,141.4 460.9,142 460.6,142.7 M465.6,135.6 C465.6,137.5 464.6,138.6 464.6,140.4 C464.6,141.4 465.1,142 465.4,142.7" fill="none" stroke="#000" stroke-width="0.95"/>
<line x1="460.4" y1="135.6" x2="465.6" y2="135.6" stroke="#000" stroke-width="0.95"/>
<rect x="460" y="142.7" width="6.0" height="2.2" rx="1.1" fill="none" stroke="#000" stroke-width="0.95"/>
<line x1="461.4" y1="144.9" x2="461.4" y2="327" stroke="#000" stroke-width="1"/>
<line x1="464.6" y1="144.9" x2="464.6" y2="327" stroke="#000" stroke-width="1"/>
<rect x="486.35" y="122.9" width="3.6" height="2.2" fill="#333"/>
<rect x="485.25" y="124.9" width="5.8" height="2.0" rx="1" fill="none" stroke="#000" stroke-width="0.95"/>
<path d="M486.65,126.9 C486.25,129.5 485.35,131 485.55,134.2 L490.75,134.2 C490.95,131 490.05,129.5 489.65,126.9" fill="none" stroke="#000" stroke-width="0.95"/>
<path d="M485.55,135.6 C485.55,137.5 486.55,138.6 486.55,140.4 C486.55,141.4 486.05,142 485.75,142.7 M490.75,135.6 C490.75,137.5 489.75,138.6 489.75,140.4 C489.75,141.4 490.25,142 490.55,142.7" fill="none" stroke="#000" stroke-width="0.95"/>
<line x1="485.55" y1="135.6" x2="490.75" y2="135.6" stroke="#000" stroke-width="0.95"/>
<rect x="485.15" y="142.7" width="6.0" height="2.2" rx="1.1" fill="none" stroke="#000" stroke-width="0.95"/>
<line x1="486.55" y1="144.9" x2="486.55" y2="327" stroke="#000" stroke-width="1"/>
<line x1="489.75" y1="144.9" x2="489.75" y2="327" stroke="#000" stroke-width="1"/>
<rect x="511.5" y="122.9" width="3.6" height="2.2" fill="#333"/>
<rect x="510.4" y="124.9" width="5.8" height="2.0" rx="1" fill="none" stroke="#000" stroke-width="0.95"/>
<path d="M511.8,126.9 C511.4,129.5 510.5,131 510.7,134.2 L515.9,134.2 C516.1,131 515.2,129.5 514.8,126.9" fill="none" stroke="#000" stroke-width="0.95"/>
<path d="M510.7,135.6 C510.7,137.5 511.7,138.6 511.7,140.4 C511.7,141.4 511.2,142 510.9,142.7 M515.9,135.6 C515.9,137.5 514.9,138.6 514.9,140.4 C514.9,141.4 515.4,142 515.7,142.7" fill="none" stroke="#000" stroke-width="0.95"/>
<line x1="510.7" y1="135.6" x2="515.9" y2="135.6" stroke="#000" stroke-width="0.95"/>
<rect x="510.3" y="142.7" width="6.0" height="2.2" rx="1.1" fill="none" stroke="#000" stroke-width="0.95"/>
<line x1="511.7" y1="144.9" x2="511.7" y2="327" stroke="#000" stroke-width="1"/>
<line x1="514.9" y1="144.9" x2="514.9" y2="327" stroke="#000" stroke-width="1"/>
<rect x="536.65" y="122.9" width="3.6" height="2.2" fill="#333"/>
<rect x="535.55" y="124.9" width="5.8" height="2.0" rx="1" fill="none" stroke="#000" stroke-width="0.95"/>
<path d="M536.95,126.9 C536.55,129.5 535.65,131 535.85,134.2 L541.05,134.2 C541.25,131 540.35,129.5 539.95,126.9" fill="none" stroke="#000" stroke-width="0.95"/>
<path d="M535.85,135.6 C535.85,137.5 536.85,138.6 536.85,140.4 C536.85,141.4 536.35,142 536.05,142.7 M541.05,135.6 C541.05,137.5 540.05,138.6 540.05,140.4 C540.05,141.4 540.55,142 540.85,142.7" fill="none" stroke="#000" stroke-width="0.95"/>
<line x1="535.85" y1="135.6" x2="541.05" y2="135.6" stroke="#000" stroke-width="0.95"/>
<rect x="535.45" y="142.7" width="6.0" height="2.2" rx="1.1" fill="none" stroke="#000" stroke-width="0.95"/>
<line x1="536.85" y1="144.9" x2="536.85" y2="327" stroke="#000" stroke-width="1"/>
<line x1="540.05" y1="144.9" x2="540.05" y2="327" stroke="#000" stroke-width="1"/>
<rect x="561.8" y="122.9" width="3.6" height="2.2" fill="#333"/>
<rect x="560.7" y="124.9" width="5.8" height="2.0" rx="1" fill="none" stroke="#000" stroke-width="0.95"/>
<path d="M562.1,126.9 C561.7,129.5 560.8,131 561,134.2 L566.2,134.2 C566.4,131 565.5,129.5 565.1,126.9" fill="none" stroke="#000" stroke-width="0.95"/>
<path d="M561,135.6 C561,137.5 562,138.6 562,140.4 C562,141.4 561.5,142 561.2,142.7 M566.2,135.6 C566.2,137.5 565.2,138.6 565.2,140.4 C565.2,141.4 565.7,142 566,142.7" fill="none" stroke="#000" stroke-width="0.95"/>
<line x1="561" y1="135.6" x2="566.2" y2="135.6" stroke="#000" stroke-width="0.95"/>
<rect x="560.6" y="142.7" width="6.0" height="2.2" rx="1.1" fill="none" stroke="#000" stroke-width="0.95"/>
<line x1="562" y1="144.9" x2="562" y2="327" stroke="#000" stroke-width="1"/>
<line x1="565.2" y1="144.9" x2="565.2" y2="327" stroke="#000" stroke-width="1"/>
<rect x="586.95" y="122.9" width="3.6" height="2.2" fill="#333"/>
<rect x="585.85" y="124.9" width="5.8" height="2.0" rx="1" fill="none" stroke="#000" stroke-width="0.95"/>
<path d="M587.25,126.9 C586.85,129.5 585.95,131 586.15,134.2 L591.35,134.2 C591.55,131 590.65,129.5 590.25,126.9" fill="none" stroke="#000" stroke-width="0.95"/>
<path d="M586.15,135.6 C586.15,137.5 587.15,138.6 587.15,140.4 C587.15,141.4 586.65,142 586.35,142.7 M591.35,135.6 C591.35,137.5 590.35,138.6 590.35,140.4 C590.35,141.4 590.85,142 591.15,142.7" fill="none" stroke="#000" stroke-width="0.95"/>
<line x1="586.15" y1="135.6" x2="591.35" y2="135.6" stroke="#000" stroke-width="0.95"/>
<rect x="585.75" y="142.7" width="6.0" height="2.2" rx="1.1" fill="none" stroke="#000" stroke-width="0.95"/>
<line x1="587.15" y1="144.9" x2="587.15" y2="327" stroke="#000" stroke-width="1"/>
<line x1="590.35" y1="144.9" x2="590.35" y2="327" stroke="#000" stroke-width="1"/>
<rect x="612.1" y="122.9" width="3.6" height="2.2" fill="#333"/>
<rect x="611" y="124.9" width="5.8" height="2.0" rx="1" fill="none" stroke="#000" stroke-width="0.95"/>
<path d="M612.4,126.9 C612,129.5 611.1,131 611.3,134.2 L616.5,134.2 C616.7,131 615.8,129.5 615.4,126.9" fill="none" stroke="#000" stroke-width="0.95"/>
<path d="M611.3,135.6 C611.3,137.5 612.3,138.6 612.3,140.4 C612.3,141.4 611.8,142 611.5,142.7 M616.5,135.6 C616.5,137.5 615.5,138.6 615.5,140.4 C615.5,141.4 616,142 616.3,142.7" fill="none" stroke="#000" stroke-width="0.95"/>
<line x1="611.3" y1="135.6" x2="616.5" y2="135.6" stroke="#000" stroke-width="0.95"/>
<rect x="610.9" y="142.7" width="6.0" height="2.2" rx="1.1" fill="none" stroke="#000" stroke-width="0.95"/>
<line x1="612.3" y1="144.9" x2="612.3" y2="327" stroke="#000" stroke-width="1"/>
<line x1="615.5" y1="144.9" x2="615.5" y2="327" stroke="#000" stroke-width="1"/>
<rect x="637.25" y="122.9" width="3.6" height="2.2" fill="#333"/>
<rect x="636.15" y="124.9" width="5.8" height="2.0" rx="1" fill="none" stroke="#000" stroke-width="0.95"/>
<path d="M637.55,126.9 C637.15,129.5 636.25,131 636.45,134.2 L641.65,134.2 C641.85,131 640.95,129.5 640.55,126.9" fill="none" stroke="#000" stroke-width="0.95"/>
<path d="M636.45,135.6 C636.45,137.5 637.45,138.6 637.45,140.4 C637.45,141.4 636.95,142 636.65,142.7 M641.65,135.6 C641.65,137.5 640.65,138.6 640.65,140.4 C640.65,141.4 641.15,142 641.45,142.7" fill="none" stroke="#000" stroke-width="0.95"/>
<line x1="636.45" y1="135.6" x2="641.65" y2="135.6" stroke="#000" stroke-width="0.95"/>
<rect x="636.05" y="142.7" width="6.0" height="2.2" rx="1.1" fill="none" stroke="#000" stroke-width="0.95"/>
<line x1="637.45" y1="144.9" x2="637.45" y2="327" stroke="#000" stroke-width="1"/>
<line x1="640.65" y1="144.9" x2="640.65" y2="327" stroke="#000" stroke-width="1"/>
<rect x="662.4" y="122.9" width="3.6" height="2.2" fill="#333"/>
<rect x="661.3" y="124.9" width="5.8" height="2.0" rx="1" fill="none" stroke="#000" stroke-width="0.95"/>
<path d="M662.7,126.9 C662.3,129.5 661.4,131 661.6,134.2 L666.8,134.2 C667,131 666.1,129.5 665.7,126.9" fill="none" stroke="#000" stroke-width="0.95"/>
<path d="M661.6,135.6 C661.6,137.5 662.6,138.6 662.6,140.4 C662.6,141.4 662.1,142 661.8,142.7 M666.8,135.6 C666.8,137.5 665.8,138.6 665.8,140.4 C665.8,141.4 666.3,142 666.6,142.7" fill="none" stroke="#000" stroke-width="0.95"/>
<line x1="661.6" y1="135.6" x2="666.8" y2="135.6" stroke="#000" stroke-width="0.95"/>
<rect x="661.2" y="142.7" width="6.0" height="2.2" rx="1.1" fill="none" stroke="#000" stroke-width="0.95"/>
<line x1="662.6" y1="144.9" x2="662.6" y2="327" stroke="#000" stroke-width="1"/>
<line x1="665.8" y1="144.9" x2="665.8" y2="327" stroke="#000" stroke-width="1"/>
<rect x="687.55" y="122.9" width="3.6" height="2.2" fill="#333"/>
<rect x="686.45" y="124.9" width="5.8" height="2.0" rx="1" fill="none" stroke="#000" stroke-width="0.95"/>
<path d="M687.85,126.9 C687.45,129.5 686.55,131 686.75,134.2 L691.95,134.2 C692.15,131 691.25,129.5 690.85,126.9" fill="none" stroke="#000" stroke-width="0.95"/>
<path d="M686.75,135.6 C686.75,137.5 687.75,138.6 687.75,140.4 C687.75,141.4 687.25,142 686.95,142.7 M691.95,135.6 C691.95,137.5 690.95,138.6 690.95,140.4 C690.95,141.4 691.45,142 691.75,142.7" fill="none" stroke="#000" stroke-width="0.95"/>
<line x1="686.75" y1="135.6" x2="691.95" y2="135.6" stroke="#000" stroke-width="0.95"/>
<rect x="686.35" y="142.7" width="6.0" height="2.2" rx="1.1" fill="none" stroke="#000" stroke-width="0.95"/>
<line x1="687.75" y1="144.9" x2="687.75" y2="327" stroke="#000" stroke-width="1"/>
<line x1="690.95" y1="144.9" x2="690.95" y2="327" stroke="#000" stroke-width="1"/>
<rect x="712.7" y="122.9" width="3.6" height="2.2" fill="#333"/>
<rect x="711.6" y="124.9" width="5.8" height="2.0" rx="1" fill="none" stroke="#000" stroke-width="0.95"/>
<path d="M713,126.9 C712.6,129.5 711.7,131 711.9,134.2 L717.1,134.2 C717.3,131 716.4,129.5 716,126.9" fill="none" stroke="#000" stroke-width="0.95"/>
<path d="M711.9,135.6 C711.9,137.5 712.9,138.6 712.9,140.4 C712.9,141.4 712.4,142 712.1,142.7 M717.1,135.6 C717.1,137.5 716.1,138.6 716.1,140.4 C716.1,141.4 716.6,142 716.9,142.7" fill="none" stroke="#000" stroke-width="0.95"/>
<line x1="711.9" y1="135.6" x2="717.1" y2="135.6" stroke="#000" stroke-width="0.95"/>
<rect x="711.5" y="142.7" width="6.0" height="2.2" rx="1.1" fill="none" stroke="#000" stroke-width="0.95"/>
<line x1="712.9" y1="144.9" x2="712.9" y2="327" stroke="#000" stroke-width="1"/>
<line x1="716.1" y1="144.9" x2="716.1" y2="327" stroke="#000" stroke-width="1"/>
<polyline points="273.07,315.4 269.38,305.3 274.38,291.9 279.38,305.3 275.68,315.4" fill="none" stroke="#000" stroke-width="0.9"/>
<circle cx="274.38" cy="317.8" r="2.1" fill="none" stroke="#000" stroke-width="0.9"/>
<line x1="272.88" y1="319.9" x2="272.88" y2="327" stroke="#000" stroke-width="0.9"/>
<line x1="275.88" y1="319.9" x2="275.88" y2="327" stroke="#000" stroke-width="0.9"/>
<polyline points="298.22,315.4 294.52,305.3 299.52,291.9 304.52,305.3 300.82,315.4" fill="none" stroke="#000" stroke-width="0.9"/>
<circle cx="299.52" cy="317.8" r="2.1" fill="none" stroke="#000" stroke-width="0.9"/>
<line x1="298.02" y1="319.9" x2="298.02" y2="327" stroke="#000" stroke-width="0.9"/>
<line x1="301.02" y1="319.9" x2="301.02" y2="327" stroke="#000" stroke-width="0.9"/>
<polyline points="323.38,315.4 319.68,305.3 324.68,291.9 329.68,305.3 325.98,315.4" fill="none" stroke="#000" stroke-width="0.9"/>
<circle cx="324.68" cy="317.8" r="2.1" fill="none" stroke="#000" stroke-width="0.9"/>
<line x1="323.18" y1="319.9" x2="323.18" y2="327" stroke="#000" stroke-width="0.9"/>
<line x1="326.18" y1="319.9" x2="326.18" y2="327" stroke="#000" stroke-width="0.9"/>
<polyline points="348.52,315.4 344.82,305.3 349.82,291.9 354.82,305.3 351.12,315.4" fill="none" stroke="#000" stroke-width="0.9"/>
<circle cx="349.82" cy="317.8" r="2.1" fill="none" stroke="#000" stroke-width="0.9"/>
<line x1="348.32" y1="319.9" x2="348.32" y2="327" stroke="#000" stroke-width="0.9"/>
<line x1="351.32" y1="319.9" x2="351.32" y2="327" stroke="#000" stroke-width="0.9"/>
<polyline points="373.67,315.4 369.97,305.3 374.97,291.9 379.97,305.3 376.27,315.4" fill="none" stroke="#000" stroke-width="0.9"/>
<circle cx="374.97" cy="317.8" r="2.1" fill="none" stroke="#000" stroke-width="0.9"/>
<line x1="373.47" y1="319.9" x2="373.47" y2="327" stroke="#000" stroke-width="0.9"/>
<line x1="376.47" y1="319.9" x2="376.47" y2="327" stroke="#000" stroke-width="0.9"/>
<polyline points="398.82,315.4 395.12,305.3 400.12,291.9 405.12,305.3 401.43,315.4" fill="none" stroke="#000" stroke-width="0.9"/>
<circle cx="400.12" cy="317.8" r="2.1" fill="none" stroke="#000" stroke-width="0.9"/>
<line x1="398.62" y1="319.9" x2="398.62" y2="327" stroke="#000" stroke-width="0.9"/>
<line x1="401.62" y1="319.9" x2="401.62" y2="327" stroke="#000" stroke-width="0.9"/>
<polyline points="423.97,315.4 420.27,305.3 425.27,291.9 430.27,305.3 426.57,315.4" fill="none" stroke="#000" stroke-width="0.9"/>
<circle cx="425.27" cy="317.8" r="2.1" fill="none" stroke="#000" stroke-width="0.9"/>
<line x1="423.77" y1="319.9" x2="423.77" y2="327" stroke="#000" stroke-width="0.9"/>
<line x1="426.77" y1="319.9" x2="426.77" y2="327" stroke="#000" stroke-width="0.9"/>
<polyline points="449.12,315.4 445.43,305.3 450.43,291.9 455.43,305.3 451.73,315.4" fill="none" stroke="#000" stroke-width="0.9"/>
<circle cx="450.43" cy="317.8" r="2.1" fill="none" stroke="#000" stroke-width="0.9"/>
<line x1="448.93" y1="319.9" x2="448.93" y2="327" stroke="#000" stroke-width="0.9"/>
<line x1="451.93" y1="319.9" x2="451.93" y2="327" stroke="#000" stroke-width="0.9"/>
<polyline points="474.27,315.4 470.57,305.3 475.57,291.9 480.57,305.3 476.88,315.4" fill="none" stroke="#000" stroke-width="0.9"/>
<circle cx="475.57" cy="317.8" r="2.1" fill="none" stroke="#000" stroke-width="0.9"/>
<line x1="474.07" y1="319.9" x2="474.07" y2="327" stroke="#000" stroke-width="0.9"/>
<line x1="477.07" y1="319.9" x2="477.07" y2="327" stroke="#000" stroke-width="0.9"/>
<polyline points="499.42,315.4 495.72,305.3 500.72,291.9 505.72,305.3 502.02,315.4" fill="none" stroke="#000" stroke-width="0.9"/>
<circle cx="500.72" cy="317.8" r="2.1" fill="none" stroke="#000" stroke-width="0.9"/>
<line x1="499.22" y1="319.9" x2="499.22" y2="327" stroke="#000" stroke-width="0.9"/>
<line x1="502.22" y1="319.9" x2="502.22" y2="327" stroke="#000" stroke-width="0.9"/>
<polyline points="524.58,315.4 520.88,305.3 525.88,291.9 530.88,305.3 527.17,315.4" fill="none" stroke="#000" stroke-width="0.9"/>
<circle cx="525.88" cy="317.8" r="2.1" fill="none" stroke="#000" stroke-width="0.9"/>
<line x1="524.38" y1="319.9" x2="524.38" y2="327" stroke="#000" stroke-width="0.9"/>
<line x1="527.38" y1="319.9" x2="527.38" y2="327" stroke="#000" stroke-width="0.9"/>
<polyline points="549.73,315.4 546.03,305.3 551.03,291.9 556.03,305.3 552.33,315.4" fill="none" stroke="#000" stroke-width="0.9"/>
<circle cx="551.03" cy="317.8" r="2.1" fill="none" stroke="#000" stroke-width="0.9"/>
<line x1="549.53" y1="319.9" x2="549.53" y2="327" stroke="#000" stroke-width="0.9"/>
<line x1="552.53" y1="319.9" x2="552.53" y2="327" stroke="#000" stroke-width="0.9"/>
<polyline points="574.88,315.4 571.17,305.3 576.17,291.9 581.17,305.3 577.47,315.4" fill="none" stroke="#000" stroke-width="0.9"/>
<circle cx="576.17" cy="317.8" r="2.1" fill="none" stroke="#000" stroke-width="0.9"/>
<line x1="574.67" y1="319.9" x2="574.67" y2="327" stroke="#000" stroke-width="0.9"/>
<line x1="577.67" y1="319.9" x2="577.67" y2="327" stroke="#000" stroke-width="0.9"/>
<polyline points="600.03,315.4 596.33,305.3 601.33,291.9 606.33,305.3 602.62,315.4" fill="none" stroke="#000" stroke-width="0.9"/>
<circle cx="601.33" cy="317.8" r="2.1" fill="none" stroke="#000" stroke-width="0.9"/>
<line x1="599.83" y1="319.9" x2="599.83" y2="327" stroke="#000" stroke-width="0.9"/>
<line x1="602.83" y1="319.9" x2="602.83" y2="327" stroke="#000" stroke-width="0.9"/>
<polyline points="625.18,315.4 621.48,305.3 626.48,291.9 631.48,305.3 627.77,315.4" fill="none" stroke="#000" stroke-width="0.9"/>
<circle cx="626.48" cy="317.8" r="2.1" fill="none" stroke="#000" stroke-width="0.9"/>
<line x1="624.98" y1="319.9" x2="624.98" y2="327" stroke="#000" stroke-width="0.9"/>
<line x1="627.98" y1="319.9" x2="627.98" y2="327" stroke="#000" stroke-width="0.9"/>
<polyline points="650.33,315.4 646.62,305.3 651.62,291.9 656.62,305.3 652.92,315.4" fill="none" stroke="#000" stroke-width="0.9"/>
<circle cx="651.62" cy="317.8" r="2.1" fill="none" stroke="#000" stroke-width="0.9"/>
<line x1="650.12" y1="319.9" x2="650.12" y2="327" stroke="#000" stroke-width="0.9"/>
<line x1="653.12" y1="319.9" x2="653.12" y2="327" stroke="#000" stroke-width="0.9"/>
<polyline points="675.48,315.4 671.78,305.3 676.78,291.9 681.78,305.3 678.08,315.4" fill="none" stroke="#000" stroke-width="0.9"/>
<circle cx="676.78" cy="317.8" r="2.1" fill="none" stroke="#000" stroke-width="0.9"/>
<line x1="675.28" y1="319.9" x2="675.28" y2="327" stroke="#000" stroke-width="0.9"/>
<line x1="678.28" y1="319.9" x2="678.28" y2="327" stroke="#000" stroke-width="0.9"/>
<polyline points="700.62,315.4 696.92,305.3 701.92,291.9 706.92,305.3 703.22,315.4" fill="none" stroke="#000" stroke-width="0.9"/>
<circle cx="701.92" cy="317.8" r="2.1" fill="none" stroke="#000" stroke-width="0.9"/>
<line x1="700.42" y1="319.9" x2="700.42" y2="327" stroke="#000" stroke-width="0.9"/>
<line x1="703.42" y1="319.9" x2="703.42" y2="327" stroke="#000" stroke-width="0.9"/>
<line x1="248.5" y1="327" x2="728" y2="327" stroke="#000" stroke-width="1.5"/>
<line x1="249.5" y1="331.8" x2="728" y2="331.8" stroke="#555" stroke-width="1.4"/>
<line x1="260.3" y1="331.8" x2="260.3" y2="366" stroke="#000" stroke-width="0.9"/>
<line x1="263.3" y1="331.8" x2="263.3" y2="366" stroke="#000" stroke-width="0.9"/>
<line x1="260.3" y1="332.4" x2="263.3" y2="332.4" stroke="#000" stroke-width="0.8"/>
<line x1="285.45" y1="331.8" x2="285.45" y2="366" stroke="#000" stroke-width="0.9"/>
<line x1="288.45" y1="331.8" x2="288.45" y2="366" stroke="#000" stroke-width="0.9"/>
<line x1="285.45" y1="332.4" x2="288.45" y2="332.4" stroke="#000" stroke-width="0.8"/>
<line x1="310.6" y1="331.8" x2="310.6" y2="366" stroke="#000" stroke-width="0.9"/>
<line x1="313.6" y1="331.8" x2="313.6" y2="366" stroke="#000" stroke-width="0.9"/>
<line x1="310.6" y1="332.4" x2="313.6" y2="332.4" stroke="#000" stroke-width="0.8"/>
<line x1="335.75" y1="331.8" x2="335.75" y2="366" stroke="#000" stroke-width="0.9"/>
<line x1="338.75" y1="331.8" x2="338.75" y2="366" stroke="#000" stroke-width="0.9"/>
<line x1="335.75" y1="332.4" x2="338.75" y2="332.4" stroke="#000" stroke-width="0.8"/>
<line x1="360.9" y1="331.8" x2="360.9" y2="366" stroke="#000" stroke-width="0.9"/>
<line x1="363.9" y1="331.8" x2="363.9" y2="366" stroke="#000" stroke-width="0.9"/>
<line x1="360.9" y1="332.4" x2="363.9" y2="332.4" stroke="#000" stroke-width="0.8"/>
<line x1="386.05" y1="331.8" x2="386.05" y2="366" stroke="#000" stroke-width="0.9"/>
<line x1="389.05" y1="331.8" x2="389.05" y2="366" stroke="#000" stroke-width="0.9"/>
<line x1="386.05" y1="332.4" x2="389.05" y2="332.4" stroke="#000" stroke-width="0.8"/>
<line x1="411.2" y1="331.8" x2="411.2" y2="366" stroke="#000" stroke-width="0.9"/>
<line x1="414.2" y1="331.8" x2="414.2" y2="366" stroke="#000" stroke-width="0.9"/>
<line x1="411.2" y1="332.4" x2="414.2" y2="332.4" stroke="#000" stroke-width="0.8"/>
<line x1="436.35" y1="331.8" x2="436.35" y2="366" stroke="#000" stroke-width="0.9"/>
<line x1="439.35" y1="331.8" x2="439.35" y2="366" stroke="#000" stroke-width="0.9"/>
<line x1="436.35" y1="332.4" x2="439.35" y2="332.4" stroke="#000" stroke-width="0.8"/>
<line x1="461.5" y1="331.8" x2="461.5" y2="366" stroke="#000" stroke-width="0.9"/>
<line x1="464.5" y1="331.8" x2="464.5" y2="366" stroke="#000" stroke-width="0.9"/>
<line x1="461.5" y1="332.4" x2="464.5" y2="332.4" stroke="#000" stroke-width="0.8"/>
<line x1="486.65" y1="331.8" x2="486.65" y2="366" stroke="#000" stroke-width="0.9"/>
<line x1="489.65" y1="331.8" x2="489.65" y2="366" stroke="#000" stroke-width="0.9"/>
<line x1="486.65" y1="332.4" x2="489.65" y2="332.4" stroke="#000" stroke-width="0.8"/>
<line x1="511.8" y1="331.8" x2="511.8" y2="366" stroke="#000" stroke-width="0.9"/>
<line x1="514.8" y1="331.8" x2="514.8" y2="366" stroke="#000" stroke-width="0.9"/>
<line x1="511.8" y1="332.4" x2="514.8" y2="332.4" stroke="#000" stroke-width="0.8"/>
<line x1="536.95" y1="331.8" x2="536.95" y2="366" stroke="#000" stroke-width="0.9"/>
<line x1="539.95" y1="331.8" x2="539.95" y2="366" stroke="#000" stroke-width="0.9"/>
<line x1="536.95" y1="332.4" x2="539.95" y2="332.4" stroke="#000" stroke-width="0.8"/>
<line x1="562.1" y1="331.8" x2="562.1" y2="366" stroke="#000" stroke-width="0.9"/>
<line x1="565.1" y1="331.8" x2="565.1" y2="366" stroke="#000" stroke-width="0.9"/>
<line x1="562.1" y1="332.4" x2="565.1" y2="332.4" stroke="#000" stroke-width="0.8"/>
<line x1="587.25" y1="331.8" x2="587.25" y2="366" stroke="#000" stroke-width="0.9"/>
<line x1="590.25" y1="331.8" x2="590.25" y2="366" stroke="#000" stroke-width="0.9"/>
<line x1="587.25" y1="332.4" x2="590.25" y2="332.4" stroke="#000" stroke-width="0.8"/>
<line x1="612.4" y1="331.8" x2="612.4" y2="366" stroke="#000" stroke-width="0.9"/>
<line x1="615.4" y1="331.8" x2="615.4" y2="366" stroke="#000" stroke-width="0.9"/>
<line x1="612.4" y1="332.4" x2="615.4" y2="332.4" stroke="#000" stroke-width="0.8"/>
<line x1="637.55" y1="331.8" x2="637.55" y2="366" stroke="#000" stroke-width="0.9"/>
<line x1="640.55" y1="331.8" x2="640.55" y2="366" stroke="#000" stroke-width="0.9"/>
<line x1="637.55" y1="332.4" x2="640.55" y2="332.4" stroke="#000" stroke-width="0.8"/>
<line x1="662.7" y1="331.8" x2="662.7" y2="366" stroke="#000" stroke-width="0.9"/>
<line x1="665.7" y1="331.8" x2="665.7" y2="366" stroke="#000" stroke-width="0.9"/>
<line x1="662.7" y1="332.4" x2="665.7" y2="332.4" stroke="#000" stroke-width="0.8"/>
<line x1="687.85" y1="331.8" x2="687.85" y2="366" stroke="#000" stroke-width="0.9"/>
<line x1="690.85" y1="331.8" x2="690.85" y2="366" stroke="#000" stroke-width="0.9"/>
<line x1="687.85" y1="332.4" x2="690.85" y2="332.4" stroke="#000" stroke-width="0.8"/>
<line x1="713" y1="331.8" x2="713" y2="366" stroke="#000" stroke-width="0.9"/>
<line x1="716" y1="331.8" x2="716" y2="366" stroke="#000" stroke-width="0.9"/>
<line x1="713" y1="332.4" x2="716" y2="332.4" stroke="#000" stroke-width="0.8"/>
<line x1="272.88" y1="331.8" x2="272.88" y2="366" stroke="#000" stroke-width="0.9"/>
<line x1="275.88" y1="331.8" x2="275.88" y2="366" stroke="#000" stroke-width="0.9"/>
<line x1="272.88" y1="332.4" x2="275.88" y2="332.4" stroke="#000" stroke-width="0.8"/>
<line x1="298.02" y1="331.8" x2="298.02" y2="366" stroke="#000" stroke-width="0.9"/>
<line x1="301.02" y1="331.8" x2="301.02" y2="366" stroke="#000" stroke-width="0.9"/>
<line x1="298.02" y1="332.4" x2="301.02" y2="332.4" stroke="#000" stroke-width="0.8"/>
<line x1="323.18" y1="331.8" x2="323.18" y2="366" stroke="#000" stroke-width="0.9"/>
<line x1="326.18" y1="331.8" x2="326.18" y2="366" stroke="#000" stroke-width="0.9"/>
<line x1="323.18" y1="332.4" x2="326.18" y2="332.4" stroke="#000" stroke-width="0.8"/>
<line x1="348.32" y1="331.8" x2="348.32" y2="366" stroke="#000" stroke-width="0.9"/>
<line x1="351.32" y1="331.8" x2="351.32" y2="366" stroke="#000" stroke-width="0.9"/>
<line x1="348.32" y1="332.4" x2="351.32" y2="332.4" stroke="#000" stroke-width="0.8"/>
<line x1="373.47" y1="331.8" x2="373.47" y2="366" stroke="#000" stroke-width="0.9"/>
<line x1="376.47" y1="331.8" x2="376.47" y2="366" stroke="#000" stroke-width="0.9"/>
<line x1="373.47" y1="332.4" x2="376.47" y2="332.4" stroke="#000" stroke-width="0.8"/>
<line x1="398.62" y1="331.8" x2="398.62" y2="366" stroke="#000" stroke-width="0.9"/>
<line x1="401.62" y1="331.8" x2="401.62" y2="366" stroke="#000" stroke-width="0.9"/>
<line x1="398.62" y1="332.4" x2="401.62" y2="332.4" stroke="#000" stroke-width="0.8"/>
<line x1="423.77" y1="331.8" x2="423.77" y2="366" stroke="#000" stroke-width="0.9"/>
<line x1="426.77" y1="331.8" x2="426.77" y2="366" stroke="#000" stroke-width="0.9"/>
<line x1="423.77" y1="332.4" x2="426.77" y2="332.4" stroke="#000" stroke-width="0.8"/>
<line x1="448.93" y1="331.8" x2="448.93" y2="366" stroke="#000" stroke-width="0.9"/>
<line x1="451.93" y1="331.8" x2="451.93" y2="366" stroke="#000" stroke-width="0.9"/>
<line x1="448.93" y1="332.4" x2="451.93" y2="332.4" stroke="#000" stroke-width="0.8"/>
<line x1="474.07" y1="331.8" x2="474.07" y2="366" stroke="#000" stroke-width="0.9"/>
<line x1="477.07" y1="331.8" x2="477.07" y2="366" stroke="#000" stroke-width="0.9"/>
<line x1="474.07" y1="332.4" x2="477.07" y2="332.4" stroke="#000" stroke-width="0.8"/>
<line x1="499.22" y1="331.8" x2="499.22" y2="366" stroke="#000" stroke-width="0.9"/>
<line x1="502.22" y1="331.8" x2="502.22" y2="366" stroke="#000" stroke-width="0.9"/>
<line x1="499.22" y1="332.4" x2="502.22" y2="332.4" stroke="#000" stroke-width="0.8"/>
<line x1="524.38" y1="331.8" x2="524.38" y2="366" stroke="#000" stroke-width="0.9"/>
<line x1="527.38" y1="331.8" x2="527.38" y2="366" stroke="#000" stroke-width="0.9"/>
<line x1="524.38" y1="332.4" x2="527.38" y2="332.4" stroke="#000" stroke-width="0.8"/>
<line x1="549.53" y1="331.8" x2="549.53" y2="366" stroke="#000" stroke-width="0.9"/>
<line x1="552.53" y1="331.8" x2="552.53" y2="366" stroke="#000" stroke-width="0.9"/>
<line x1="549.53" y1="332.4" x2="552.53" y2="332.4" stroke="#000" stroke-width="0.8"/>
<line x1="574.67" y1="331.8" x2="574.67" y2="366" stroke="#000" stroke-width="0.9"/>
<line x1="577.67" y1="331.8" x2="577.67" y2="366" stroke="#000" stroke-width="0.9"/>
<line x1="574.67" y1="332.4" x2="577.67" y2="332.4" stroke="#000" stroke-width="0.8"/>
<line x1="599.83" y1="331.8" x2="599.83" y2="366" stroke="#000" stroke-width="0.9"/>
<line x1="602.83" y1="331.8" x2="602.83" y2="366" stroke="#000" stroke-width="0.9"/>
<line x1="599.83" y1="332.4" x2="602.83" y2="332.4" stroke="#000" stroke-width="0.8"/>
<line x1="624.98" y1="331.8" x2="624.98" y2="366" stroke="#000" stroke-width="0.9"/>
<line x1="627.98" y1="331.8" x2="627.98" y2="366" stroke="#000" stroke-width="0.9"/>
<line x1="624.98" y1="332.4" x2="627.98" y2="332.4" stroke="#000" stroke-width="0.8"/>
<line x1="650.12" y1="331.8" x2="650.12" y2="366" stroke="#000" stroke-width="0.9"/>
<line x1="653.12" y1="331.8" x2="653.12" y2="366" stroke="#000" stroke-width="0.9"/>
<line x1="650.12" y1="332.4" x2="653.12" y2="332.4" stroke="#000" stroke-width="0.8"/>
<line x1="675.28" y1="331.8" x2="675.28" y2="366" stroke="#000" stroke-width="0.9"/>
<line x1="678.28" y1="331.8" x2="678.28" y2="366" stroke="#000" stroke-width="0.9"/>
<line x1="675.28" y1="332.4" x2="678.28" y2="332.4" stroke="#000" stroke-width="0.8"/>
<line x1="700.42" y1="331.8" x2="700.42" y2="366" stroke="#000" stroke-width="0.9"/>
<line x1="703.42" y1="331.8" x2="703.42" y2="366" stroke="#000" stroke-width="0.9"/>
<line x1="700.42" y1="332.4" x2="703.42" y2="332.4" stroke="#000" stroke-width="0.8"/>
<line x1="256.5" y1="366" x2="720" y2="366" stroke="#000" stroke-width="1"/>
<line x1="256.5" y1="370.4" x2="750" y2="370.4" stroke="#000" stroke-width="1"/>
<line x1="370.2" y1="370.4" x2="370.2" y2="474.2" stroke="#000" stroke-width="1"/>
<line x1="373" y1="370.4" x2="373" y2="474.2" stroke="#000" stroke-width="1"/>
<line x1="486.3" y1="370.4" x2="486.3" y2="474.2" stroke="#000" stroke-width="1"/>
<line x1="489.1" y1="370.4" x2="489.1" y2="474.2" stroke="#000" stroke-width="1"/>
<line x1="603.3" y1="370.4" x2="603.3" y2="474.2" stroke="#000" stroke-width="1"/>
<line x1="606.1" y1="370.4" x2="606.1" y2="474.2" stroke="#000" stroke-width="1"/>
<path d="M262.1,376.6 L277.4,376.6 M280.6,376.6 L345.5,376.6 M348.7,376.6 L363.4,376.6 L363.4,386.4 M363.4,389.6 L363.4,455.7 M363.4,458.9 L363.4,468.3 L348.7,468.3 M345.5,468.3 L280.6,468.3 M277.4,468.3 L262.1,468.3 L262.1,458.9 M262.1,455.7 L262.1,389.6 M262.1,386.4 L262.1,376.6" fill="none" stroke="#000" stroke-width="1.0"/>
<rect x="265.1" y="379.6" width="95.3" height="85.7" fill="none" stroke="#000" stroke-width="1"/>
<line x1="277.4" y1="370.4" x2="277.4" y2="376.6" stroke="#000" stroke-width="0.9"/>
<line x1="280.6" y1="370.4" x2="280.6" y2="376.6" stroke="#000" stroke-width="0.9"/>
<line x1="277.4" y1="468.3" x2="277.4" y2="474.2" stroke="#000" stroke-width="0.9"/>
<line x1="280.6" y1="468.3" x2="280.6" y2="474.2" stroke="#000" stroke-width="0.9"/>
<line x1="345.5" y1="370.4" x2="345.5" y2="376.6" stroke="#000" stroke-width="0.9"/>
<line x1="348.7" y1="370.4" x2="348.7" y2="376.6" stroke="#000" stroke-width="0.9"/>
<line x1="345.5" y1="468.3" x2="345.5" y2="474.2" stroke="#000" stroke-width="0.9"/>
<line x1="348.7" y1="468.3" x2="348.7" y2="474.2" stroke="#000" stroke-width="0.9"/>
<line x1="256.5" y1="386.4" x2="262.1" y2="386.4" stroke="#000" stroke-width="0.9"/>
<line x1="256.5" y1="389.6" x2="262.1" y2="389.6" stroke="#000" stroke-width="0.9"/>
<line x1="363.4" y1="386.4" x2="369.7" y2="386.4" stroke="#000" stroke-width="0.9"/>
<line x1="363.4" y1="389.6" x2="369.7" y2="389.6" stroke="#000" stroke-width="0.9"/>
<line x1="256.5" y1="455.7" x2="262.1" y2="455.7" stroke="#000" stroke-width="0.9"/>
<line x1="256.5" y1="458.9" x2="262.1" y2="458.9" stroke="#000" stroke-width="0.9"/>
<line x1="363.4" y1="455.7" x2="369.7" y2="455.7" stroke="#000" stroke-width="0.9"/>
<line x1="363.4" y1="458.9" x2="369.7" y2="458.9" stroke="#000" stroke-width="0.9"/>
<clipPath id="pc0"><rect x="265.6" y="380.1" width="94.3" height="84.7"/></clipPath>
<g clip-path="url(#pc0)">
<polygon points="263.67,468.2 363.43,378.49 361.83,376.7 262.07,466.41" fill="#fff"/>
<line x1="263.67" y1="468.2" x2="363.43" y2="378.49" stroke="#000" stroke-width="0.9"/>
<line x1="262.07" y1="466.41" x2="361.83" y2="376.7" stroke="#000" stroke-width="0.9"/>
<polygon points="361.83,419.55 309.72,466.41 311.32,468.2 363.43,421.34" fill="#fff"/>
<line x1="361.83" y1="419.55" x2="309.72" y2="466.41" stroke="#000" stroke-width="0.9"/>
<line x1="363.43" y1="421.34" x2="311.32" y2="468.2" stroke="#000" stroke-width="0.9"/>
<polygon points="263.67,425.35 315.78,378.49 314.18,376.7 262.07,423.56" fill="#fff"/>
<line x1="263.67" y1="425.35" x2="315.78" y2="378.49" stroke="#000" stroke-width="0.9"/>
<line x1="262.07" y1="423.56" x2="314.18" y2="376.7" stroke="#000" stroke-width="0.9"/>
<polygon points="262.07,378.49 361.83,468.2 363.43,466.41 263.67,376.7" fill="#fff"/>
<line x1="262.07" y1="378.49" x2="361.83" y2="468.2" stroke="#000" stroke-width="0.9"/>
<line x1="263.67" y1="376.7" x2="363.43" y2="466.41" stroke="#000" stroke-width="0.9"/>
<polygon points="309.72,378.49 361.83,425.35 363.43,423.56 311.32,376.7" fill="#fff"/>
<line x1="309.72" y1="378.49" x2="361.83" y2="425.35" stroke="#000" stroke-width="0.9"/>
<line x1="311.32" y1="376.7" x2="363.43" y2="423.56" stroke="#000" stroke-width="0.9"/>
<polygon points="262.07,421.34 314.18,468.2 315.78,466.41 263.67,419.55" fill="#fff"/>
<line x1="262.07" y1="421.34" x2="314.18" y2="468.2" stroke="#000" stroke-width="0.9"/>
<line x1="263.67" y1="419.55" x2="315.78" y2="466.41" stroke="#000" stroke-width="0.9"/>
</g>
<rect x="284.93" y="399.23" width="8.0" height="3.6" fill="#fff" stroke="#000" stroke-width="1.0" transform="rotate(41.96 288.93 401.03)"/>
<line x1="284.93" y1="401.03" x2="292.93" y2="401.03" stroke="#666" stroke-width="0.7" transform="rotate(41.96 288.93 401.03)"/>
<rect x="332.57" y="399.23" width="8.0" height="3.6" fill="#fff" stroke="#000" stroke-width="1.0" transform="rotate(41.96 336.57 401.03)"/>
<line x1="332.57" y1="401.03" x2="340.57" y2="401.03" stroke="#666" stroke-width="0.7" transform="rotate(41.96 336.57 401.03)"/>
<rect x="308.75" y="420.65" width="8.0" height="3.6" fill="#fff" stroke="#000" stroke-width="1.0" transform="rotate(41.96 312.75 422.45)"/>
<line x1="308.75" y1="422.45" x2="316.75" y2="422.45" stroke="#666" stroke-width="0.7" transform="rotate(41.96 312.75 422.45)"/>
<rect x="284.93" y="442.07" width="8.0" height="3.6" fill="#fff" stroke="#000" stroke-width="1.0" transform="rotate(41.96 288.93 443.88)"/>
<line x1="284.93" y1="443.88" x2="292.93" y2="443.88" stroke="#666" stroke-width="0.7" transform="rotate(41.96 288.93 443.88)"/>
<rect x="332.57" y="442.07" width="8.0" height="3.6" fill="#fff" stroke="#000" stroke-width="1.0" transform="rotate(41.96 336.57 443.88)"/>
<line x1="332.57" y1="443.88" x2="340.57" y2="443.88" stroke="#666" stroke-width="0.7" transform="rotate(41.96 336.57 443.88)"/>
<path d="M378.9,376.6 L394.2,376.6 M397.4,376.6 L462.6,376.6 M465.8,376.6 L480.5,376.6 L480.5,386.4 M480.5,389.6 L480.5,455.7 M480.5,458.9 L480.5,468.3 L465.8,468.3 M462.6,468.3 L397.4,468.3 M394.2,468.3 L378.9,468.3 L378.9,458.9 M378.9,455.7 L378.9,389.6 M378.9,386.4 L378.9,376.6" fill="none" stroke="#000" stroke-width="1.0"/>
<rect x="381.9" y="379.6" width="95.6" height="85.7" fill="none" stroke="#000" stroke-width="1"/>
<line x1="394.2" y1="370.4" x2="394.2" y2="376.6" stroke="#000" stroke-width="0.9"/>
<line x1="397.4" y1="370.4" x2="397.4" y2="376.6" stroke="#000" stroke-width="0.9"/>
<line x1="394.2" y1="468.3" x2="394.2" y2="474.2" stroke="#000" stroke-width="0.9"/>
<line x1="397.4" y1="468.3" x2="397.4" y2="474.2" stroke="#000" stroke-width="0.9"/>
<line x1="462.6" y1="370.4" x2="462.6" y2="376.6" stroke="#000" stroke-width="0.9"/>
<line x1="465.8" y1="370.4" x2="465.8" y2="376.6" stroke="#000" stroke-width="0.9"/>
<line x1="462.6" y1="468.3" x2="462.6" y2="474.2" stroke="#000" stroke-width="0.9"/>
<line x1="465.8" y1="468.3" x2="465.8" y2="474.2" stroke="#000" stroke-width="0.9"/>
<line x1="373.5" y1="386.4" x2="378.9" y2="386.4" stroke="#000" stroke-width="0.9"/>
<line x1="373.5" y1="389.6" x2="378.9" y2="389.6" stroke="#000" stroke-width="0.9"/>
<line x1="480.5" y1="386.4" x2="485.8" y2="386.4" stroke="#000" stroke-width="0.9"/>
<line x1="480.5" y1="389.6" x2="485.8" y2="389.6" stroke="#000" stroke-width="0.9"/>
<line x1="373.5" y1="455.7" x2="378.9" y2="455.7" stroke="#000" stroke-width="0.9"/>
<line x1="373.5" y1="458.9" x2="378.9" y2="458.9" stroke="#000" stroke-width="0.9"/>
<line x1="480.5" y1="455.7" x2="485.8" y2="455.7" stroke="#000" stroke-width="0.9"/>
<line x1="480.5" y1="458.9" x2="485.8" y2="458.9" stroke="#000" stroke-width="0.9"/>
<clipPath id="pc1"><rect x="382.4" y="380.1" width="94.6" height="84.7"/></clipPath>
<g clip-path="url(#pc1)">
<polygon points="380.47,468.2 480.53,378.49 478.93,376.7 378.87,466.41" fill="#fff"/>
<line x1="380.47" y1="468.2" x2="480.53" y2="378.49" stroke="#000" stroke-width="0.9"/>
<line x1="378.87" y1="466.41" x2="478.93" y2="376.7" stroke="#000" stroke-width="0.9"/>
<polygon points="478.93,419.55 426.67,466.41 428.27,468.2 480.53,421.34" fill="#fff"/>
<line x1="478.93" y1="419.55" x2="426.67" y2="466.41" stroke="#000" stroke-width="0.9"/>
<line x1="480.53" y1="421.34" x2="428.27" y2="468.2" stroke="#000" stroke-width="0.9"/>
<polygon points="380.47,425.35 432.73,378.49 431.13,376.7 378.87,423.56" fill="#fff"/>
<line x1="380.47" y1="425.35" x2="432.73" y2="378.49" stroke="#000" stroke-width="0.9"/>
<line x1="378.87" y1="423.56" x2="431.13" y2="376.7" stroke="#000" stroke-width="0.9"/>
<polygon points="378.87,378.49 478.93,468.2 480.53,466.41 380.47,376.7" fill="#fff"/>
<line x1="378.87" y1="378.49" x2="478.93" y2="468.2" stroke="#000" stroke-width="0.9"/>
<line x1="380.47" y1="376.7" x2="480.53" y2="466.41" stroke="#000" stroke-width="0.9"/>
<polygon points="426.67,378.49 478.93,425.35 480.53,423.56 428.27,376.7" fill="#fff"/>
<line x1="426.67" y1="378.49" x2="478.93" y2="425.35" stroke="#000" stroke-width="0.9"/>
<line x1="428.27" y1="376.7" x2="480.53" y2="423.56" stroke="#000" stroke-width="0.9"/>
<polygon points="378.87,421.34 431.13,468.2 432.73,466.41 380.47,419.55" fill="#fff"/>
<line x1="378.87" y1="421.34" x2="431.13" y2="468.2" stroke="#000" stroke-width="0.9"/>
<line x1="380.47" y1="419.55" x2="432.73" y2="466.41" stroke="#000" stroke-width="0.9"/>
</g>
<rect x="401.8" y="399.23" width="8.0" height="3.6" fill="#fff" stroke="#000" stroke-width="1.0" transform="rotate(41.87 405.8 401.03)"/>
<line x1="401.8" y1="401.03" x2="409.8" y2="401.03" stroke="#666" stroke-width="0.7" transform="rotate(41.87 405.8 401.03)"/>
<rect x="449.6" y="399.23" width="8.0" height="3.6" fill="#fff" stroke="#000" stroke-width="1.0" transform="rotate(41.87 453.6 401.03)"/>
<line x1="449.6" y1="401.03" x2="457.6" y2="401.03" stroke="#666" stroke-width="0.7" transform="rotate(41.87 453.6 401.03)"/>
<rect x="425.7" y="420.65" width="8.0" height="3.6" fill="#fff" stroke="#000" stroke-width="1.0" transform="rotate(41.87 429.7 422.45)"/>
<line x1="425.7" y1="422.45" x2="433.7" y2="422.45" stroke="#666" stroke-width="0.7" transform="rotate(41.87 429.7 422.45)"/>
<rect x="401.8" y="442.07" width="8.0" height="3.6" fill="#fff" stroke="#000" stroke-width="1.0" transform="rotate(41.87 405.8 443.88)"/>
<line x1="401.8" y1="443.88" x2="409.8" y2="443.88" stroke="#666" stroke-width="0.7" transform="rotate(41.87 405.8 443.88)"/>
<rect x="449.6" y="442.07" width="8.0" height="3.6" fill="#fff" stroke="#000" stroke-width="1.0" transform="rotate(41.87 453.6 443.88)"/>
<line x1="449.6" y1="443.88" x2="457.6" y2="443.88" stroke="#666" stroke-width="0.7" transform="rotate(41.87 453.6 443.88)"/>
<path d="M495.2,376.6 L510.5,376.6 M513.7,376.6 L579.7,376.6 M582.9,376.6 L597.6,376.6 L597.6,386.4 M597.6,389.6 L597.6,455.7 M597.6,458.9 L597.6,468.3 L582.9,468.3 M579.7,468.3 L513.7,468.3 M510.5,468.3 L495.2,468.3 L495.2,458.9 M495.2,455.7 L495.2,389.6 M495.2,386.4 L495.2,376.6" fill="none" stroke="#000" stroke-width="1.0"/>
<rect x="498.2" y="379.6" width="96.4" height="85.7" fill="none" stroke="#000" stroke-width="1"/>
<line x1="510.5" y1="370.4" x2="510.5" y2="376.6" stroke="#000" stroke-width="0.9"/>
<line x1="513.7" y1="370.4" x2="513.7" y2="376.6" stroke="#000" stroke-width="0.9"/>
<line x1="510.5" y1="468.3" x2="510.5" y2="474.2" stroke="#000" stroke-width="0.9"/>
<line x1="513.7" y1="468.3" x2="513.7" y2="474.2" stroke="#000" stroke-width="0.9"/>
<line x1="579.7" y1="370.4" x2="579.7" y2="376.6" stroke="#000" stroke-width="0.9"/>
<line x1="582.9" y1="370.4" x2="582.9" y2="376.6" stroke="#000" stroke-width="0.9"/>
<line x1="579.7" y1="468.3" x2="579.7" y2="474.2" stroke="#000" stroke-width="0.9"/>
<line x1="582.9" y1="468.3" x2="582.9" y2="474.2" stroke="#000" stroke-width="0.9"/>
<line x1="489.6" y1="386.4" x2="495.2" y2="386.4" stroke="#000" stroke-width="0.9"/>
<line x1="489.6" y1="389.6" x2="495.2" y2="389.6" stroke="#000" stroke-width="0.9"/>
<line x1="597.6" y1="386.4" x2="602.8" y2="386.4" stroke="#000" stroke-width="0.9"/>
<line x1="597.6" y1="389.6" x2="602.8" y2="389.6" stroke="#000" stroke-width="0.9"/>
<line x1="489.6" y1="455.7" x2="495.2" y2="455.7" stroke="#000" stroke-width="0.9"/>
<line x1="489.6" y1="458.9" x2="495.2" y2="458.9" stroke="#000" stroke-width="0.9"/>
<line x1="597.6" y1="455.7" x2="602.8" y2="455.7" stroke="#000" stroke-width="0.9"/>
<line x1="597.6" y1="458.9" x2="602.8" y2="458.9" stroke="#000" stroke-width="0.9"/>
<clipPath id="pc2"><rect x="498.7" y="380.1" width="95.4" height="84.7"/></clipPath>
<g clip-path="url(#pc2)">
<polygon points="496.76,468.19 597.64,378.5 596.04,376.71 495.16,466.4" fill="#fff"/>
<line x1="496.76" y1="468.19" x2="597.64" y2="378.5" stroke="#000" stroke-width="0.9"/>
<line x1="495.16" y1="466.4" x2="596.04" y2="376.71" stroke="#000" stroke-width="0.9"/>
<polygon points="596.04,419.56 543.36,466.4 544.96,468.19 597.64,421.35" fill="#fff"/>
<line x1="596.04" y1="419.56" x2="543.36" y2="466.4" stroke="#000" stroke-width="0.9"/>
<line x1="597.64" y1="421.35" x2="544.96" y2="468.19" stroke="#000" stroke-width="0.9"/>
<polygon points="496.76,425.34 549.44,378.5 547.84,376.71 495.16,423.55" fill="#fff"/>
<line x1="496.76" y1="425.34" x2="549.44" y2="378.5" stroke="#000" stroke-width="0.9"/>
<line x1="495.16" y1="423.55" x2="547.84" y2="376.71" stroke="#000" stroke-width="0.9"/>
<polygon points="495.16,378.5 596.04,468.19 597.64,466.4 496.76,376.71" fill="#fff"/>
<line x1="495.16" y1="378.5" x2="596.04" y2="468.19" stroke="#000" stroke-width="0.9"/>
<line x1="496.76" y1="376.71" x2="597.64" y2="466.4" stroke="#000" stroke-width="0.9"/>
<polygon points="543.36,378.5 596.04,425.34 597.64,423.55 544.96,376.71" fill="#fff"/>
<line x1="543.36" y1="378.5" x2="596.04" y2="425.34" stroke="#000" stroke-width="0.9"/>
<line x1="544.96" y1="376.71" x2="597.64" y2="423.55" stroke="#000" stroke-width="0.9"/>
<polygon points="495.16,421.35 547.84,468.19 549.44,466.4 496.76,419.56" fill="#fff"/>
<line x1="495.16" y1="421.35" x2="547.84" y2="468.19" stroke="#000" stroke-width="0.9"/>
<line x1="496.76" y1="419.56" x2="549.44" y2="466.4" stroke="#000" stroke-width="0.9"/>
</g>
<rect x="518.3" y="399.23" width="8.0" height="3.6" fill="#fff" stroke="#000" stroke-width="1.0" transform="rotate(41.64 522.3 401.03)"/>
<line x1="518.3" y1="401.03" x2="526.3" y2="401.03" stroke="#666" stroke-width="0.7" transform="rotate(41.64 522.3 401.03)"/>
<rect x="566.5" y="399.23" width="8.0" height="3.6" fill="#fff" stroke="#000" stroke-width="1.0" transform="rotate(41.64 570.5 401.03)"/>
<line x1="566.5" y1="401.03" x2="574.5" y2="401.03" stroke="#666" stroke-width="0.7" transform="rotate(41.64 570.5 401.03)"/>
<rect x="542.4" y="420.65" width="8.0" height="3.6" fill="#fff" stroke="#000" stroke-width="1.0" transform="rotate(41.64 546.4 422.45)"/>
<line x1="542.4" y1="422.45" x2="550.4" y2="422.45" stroke="#666" stroke-width="0.7" transform="rotate(41.64 546.4 422.45)"/>
<rect x="518.3" y="442.07" width="8.0" height="3.6" fill="#fff" stroke="#000" stroke-width="1.0" transform="rotate(41.64 522.3 443.88)"/>
<line x1="518.3" y1="443.88" x2="526.3" y2="443.88" stroke="#666" stroke-width="0.7" transform="rotate(41.64 522.3 443.88)"/>
<rect x="566.5" y="442.07" width="8.0" height="3.6" fill="#fff" stroke="#000" stroke-width="1.0" transform="rotate(41.64 570.5 443.88)"/>
<line x1="566.5" y1="443.88" x2="574.5" y2="443.88" stroke="#666" stroke-width="0.7" transform="rotate(41.64 570.5 443.88)"/>
<path d="M612.3,376.6 L627.6,376.6 M630.8,376.6 L696.3,376.6 M699.5,376.6 L714.2,376.6 L714.2,386.4 M714.2,389.6 L714.2,455.7 M714.2,458.9 L714.2,468.3 L699.5,468.3 M696.3,468.3 L630.8,468.3 M627.6,468.3 L612.3,468.3 L612.3,458.9 M612.3,455.7 L612.3,389.6 M612.3,386.4 L612.3,376.6" fill="none" stroke="#000" stroke-width="1.0"/>
<rect x="615.3" y="379.6" width="95.9" height="85.7" fill="none" stroke="#000" stroke-width="1"/>
<line x1="627.6" y1="370.4" x2="627.6" y2="376.6" stroke="#000" stroke-width="0.9"/>
<line x1="630.8" y1="370.4" x2="630.8" y2="376.6" stroke="#000" stroke-width="0.9"/>
<line x1="627.6" y1="468.3" x2="627.6" y2="474.2" stroke="#000" stroke-width="0.9"/>
<line x1="630.8" y1="468.3" x2="630.8" y2="474.2" stroke="#000" stroke-width="0.9"/>
<line x1="696.3" y1="370.4" x2="696.3" y2="376.6" stroke="#000" stroke-width="0.9"/>
<line x1="699.5" y1="370.4" x2="699.5" y2="376.6" stroke="#000" stroke-width="0.9"/>
<line x1="696.3" y1="468.3" x2="696.3" y2="474.2" stroke="#000" stroke-width="0.9"/>
<line x1="699.5" y1="468.3" x2="699.5" y2="474.2" stroke="#000" stroke-width="0.9"/>
<line x1="606.6" y1="386.4" x2="612.3" y2="386.4" stroke="#000" stroke-width="0.9"/>
<line x1="606.6" y1="389.6" x2="612.3" y2="389.6" stroke="#000" stroke-width="0.9"/>
<line x1="714.2" y1="386.4" x2="720" y2="386.4" stroke="#000" stroke-width="0.9"/>
<line x1="714.2" y1="389.6" x2="720" y2="389.6" stroke="#000" stroke-width="0.9"/>
<line x1="606.6" y1="455.7" x2="612.3" y2="455.7" stroke="#000" stroke-width="0.9"/>
<line x1="606.6" y1="458.9" x2="612.3" y2="458.9" stroke="#000" stroke-width="0.9"/>
<line x1="714.2" y1="455.7" x2="720" y2="455.7" stroke="#000" stroke-width="0.9"/>
<line x1="714.2" y1="458.9" x2="720" y2="458.9" stroke="#000" stroke-width="0.9"/>
<clipPath id="pc3"><rect x="615.8" y="380.1" width="94.9" height="84.7"/></clipPath>
<g clip-path="url(#pc3)">
<polygon points="613.86,468.19 714.24,378.5 712.64,376.71 612.26,466.4" fill="#fff"/>
<line x1="613.86" y1="468.19" x2="714.24" y2="378.5" stroke="#000" stroke-width="0.9"/>
<line x1="612.26" y1="466.4" x2="712.64" y2="376.71" stroke="#000" stroke-width="0.9"/>
<polygon points="712.64,419.56 660.21,466.4 661.81,468.19 714.24,421.35" fill="#fff"/>
<line x1="712.64" y1="419.56" x2="660.21" y2="466.4" stroke="#000" stroke-width="0.9"/>
<line x1="714.24" y1="421.35" x2="661.81" y2="468.19" stroke="#000" stroke-width="0.9"/>
<polygon points="613.86,425.34 666.29,378.5 664.69,376.71 612.26,423.55" fill="#fff"/>
<line x1="613.86" y1="425.34" x2="666.29" y2="378.5" stroke="#000" stroke-width="0.9"/>
<line x1="612.26" y1="423.55" x2="664.69" y2="376.71" stroke="#000" stroke-width="0.9"/>
<polygon points="612.26,378.5 712.64,468.19 714.24,466.4 613.86,376.71" fill="#fff"/>
<line x1="612.26" y1="378.5" x2="712.64" y2="468.19" stroke="#000" stroke-width="0.9"/>
<line x1="613.86" y1="376.71" x2="714.24" y2="466.4" stroke="#000" stroke-width="0.9"/>
<polygon points="660.21,378.5 712.64,425.34 714.24,423.55 661.81,376.71" fill="#fff"/>
<line x1="660.21" y1="378.5" x2="712.64" y2="425.34" stroke="#000" stroke-width="0.9"/>
<line x1="661.81" y1="376.71" x2="714.24" y2="423.55" stroke="#000" stroke-width="0.9"/>
<polygon points="612.26,421.35 664.69,468.19 666.29,466.4 613.86,419.56" fill="#fff"/>
<line x1="612.26" y1="421.35" x2="664.69" y2="468.19" stroke="#000" stroke-width="0.9"/>
<line x1="613.86" y1="419.56" x2="666.29" y2="466.4" stroke="#000" stroke-width="0.9"/>
</g>
<rect x="635.27" y="399.23" width="8.0" height="3.6" fill="#fff" stroke="#000" stroke-width="1.0" transform="rotate(41.79 639.27 401.03)"/>
<line x1="635.27" y1="401.03" x2="643.27" y2="401.03" stroke="#666" stroke-width="0.7" transform="rotate(41.79 639.27 401.03)"/>
<rect x="683.23" y="399.23" width="8.0" height="3.6" fill="#fff" stroke="#000" stroke-width="1.0" transform="rotate(41.79 687.23 401.03)"/>
<line x1="683.23" y1="401.03" x2="691.23" y2="401.03" stroke="#666" stroke-width="0.7" transform="rotate(41.79 687.23 401.03)"/>
<rect x="659.25" y="420.65" width="8.0" height="3.6" fill="#fff" stroke="#000" stroke-width="1.0" transform="rotate(41.79 663.25 422.45)"/>
<line x1="659.25" y1="422.45" x2="667.25" y2="422.45" stroke="#666" stroke-width="0.7" transform="rotate(41.79 663.25 422.45)"/>
<rect x="635.27" y="442.07" width="8.0" height="3.6" fill="#fff" stroke="#000" stroke-width="1.0" transform="rotate(41.79 639.27 443.88)"/>
<line x1="635.27" y1="443.88" x2="643.27" y2="443.88" stroke="#666" stroke-width="0.7" transform="rotate(41.79 639.27 443.88)"/>
<rect x="683.23" y="442.07" width="8.0" height="3.6" fill="#fff" stroke="#000" stroke-width="1.0" transform="rotate(41.79 687.23 443.88)"/>
<line x1="683.23" y1="443.88" x2="691.23" y2="443.88" stroke="#666" stroke-width="0.7" transform="rotate(41.79 687.23 443.88)"/>
<line x1="138.5" y1="474.2" x2="728" y2="474.2" stroke="#000" stroke-width="1.1"/>
<line x1="138.5" y1="486.7" x2="728" y2="486.7" stroke="#666" stroke-width="1.5"/>
<line x1="124" y1="474.2" x2="138.5" y2="474.2" stroke="#333" stroke-width="0.8"/>
<line x1="126" y1="486.7" x2="138.5" y2="486.7" stroke="#333" stroke-width="0.8"/>
<line x1="122" y1="502.4" x2="765" y2="502.4" stroke="#000" stroke-width="1"/>
<line x1="138.5" y1="474.2" x2="138.5" y2="548" stroke="#000" stroke-width="1"/>
<line x1="138.5" y1="474.2" x2="247.7" y2="327.2" stroke="#000" stroke-width="1"/>
<line x1="148" y1="474.2" x2="248.5" y2="339.4" stroke="#000" stroke-width="1"/>
<rect x="722.1" y="293.8" width="4.1" height="24.3" rx="1.6" fill="none" stroke="#666" stroke-width="0.8" stroke-dasharray="1.3,0.9"/>
<line x1="724.15" y1="295.5" x2="724.15" y2="316.5" stroke="#888" stroke-width="0.7" stroke-dasharray="1.3,0.9"/>
<line x1="714.5" y1="54.3" x2="765" y2="54.3" stroke="#111" stroke-width="0.9"/>
<line x1="728" y1="122.3" x2="750" y2="122.3" stroke="#111" stroke-width="0.9"/>
<line x1="728" y1="326.5" x2="750" y2="326.5" stroke="#111" stroke-width="0.9"/>
<line x1="744.8" y1="54.3" x2="744.8" y2="502.4" stroke="#333" stroke-width="0.8"/>
<line x1="761" y1="54.3" x2="761" y2="502.4" stroke="#333" stroke-width="0.8"/>
<polygon points="744.8,54.3 745.65,58.5 743.95,58.5" fill="#000"/>
<polygon points="744.8,90.5 745.65,94.7 743.95,94.7" fill="#000"/>
<polygon points="744.8,90.5 743.95,86.3 745.65,86.3" fill="#000"/>
<polygon points="744.8,122.3 745.65,126.5 743.95,126.5" fill="#000"/>
<polygon points="744.8,122.3 743.95,118.1 745.65,118.1" fill="#000"/>
<polygon points="744.8,327 745.65,331.2 743.95,331.2" fill="#000"/>
<polygon points="744.8,327 743.95,322.8 745.65,322.8" fill="#000"/>
<polygon points="744.8,370.4 745.65,374.6 743.95,374.6" fill="#000"/>
<polygon points="744.8,370.4 743.95,366.2 745.65,366.2" fill="#000"/>
<polygon points="744.8,502.4 743.95,498.2 745.65,498.2" fill="#000"/>
<polygon points="761,54.3 761.85,58.5 760.15,58.5" fill="#000"/>
<polygon points="761,502.4 760.15,498.2 761.85,498.2" fill="#000"/>
<text x="744.2" y="72.6" font-family="Liberation Serif" font-size="12.5" text-anchor="middle" fill="#000" font-weight="normal" textLength="19.3" lengthAdjust="spacingAndGlyphs" transform="rotate(-90 744.2 72.6)">230</text>
<text x="744.2" y="106" font-family="Liberation Serif" font-size="12.5" text-anchor="middle" fill="#000" font-weight="normal" textLength="19.3" lengthAdjust="spacingAndGlyphs" transform="rotate(-90 744.2 106)">200</text>
<text x="745" y="223.5" font-family="Liberation Serif" font-size="12.5" text-anchor="middle" fill="#000" font-weight="normal" textLength="25" lengthAdjust="spacingAndGlyphs" transform="rotate(-90 745 223.5)">1300</text>
<text x="745" y="348" font-family="Liberation Serif" font-size="12.5" text-anchor="middle" fill="#000" font-weight="normal" textLength="19.3" lengthAdjust="spacingAndGlyphs" transform="rotate(-90 745 348)">280</text>
<text x="745" y="436.4" font-family="Liberation Serif" font-size="12.5" text-anchor="middle" fill="#000" font-weight="normal" textLength="19.6" lengthAdjust="spacingAndGlyphs" transform="rotate(-90 745 436.4)">840</text>
<text x="760.2" y="278.2" font-family="Liberation Serif" font-size="12.5" text-anchor="middle" fill="#000" font-weight="normal" textLength="26" lengthAdjust="spacingAndGlyphs" transform="rotate(-90 760.2 278.2)">2850</text>
<line x1="681" y1="305.8" x2="723.5" y2="305.8" stroke="#333" stroke-width="0.8"/>
<line x1="686.5" y1="305.8" x2="686.5" y2="502.4" stroke="#333" stroke-width="0.8"/>
<polygon points="686.5,305.8 687.35,310 685.65,310" fill="#000"/>
<polygon points="686.5,502.4 685.65,498.2 687.35,498.2" fill="#000"/>
<text x="684.8" y="345.9" font-family="Liberation Serif" font-size="12.5" text-anchor="middle" fill="#000" font-weight="normal" textLength="23.8" lengthAdjust="spacingAndGlyphs" transform="rotate(-90 684.8 345.9)">1250</text>
<line x1="261.4" y1="38" x2="261.4" y2="54.3" stroke="#333" stroke-width="0.8"/>
<line x1="286.55" y1="38" x2="286.55" y2="54.3" stroke="#333" stroke-width="0.8"/>
<line x1="261.4" y1="42.4" x2="286.55" y2="42.4" stroke="#333" stroke-width="0.8"/>
<polygon points="261.4,42.4 265.6,41.55 265.6,43.25" fill="#000"/>
<polygon points="286.55,42.4 282.35,43.25 282.35,41.55" fill="#000"/>
<text x="274.2" y="42.4" font-family="Liberation Serif" font-size="12.5" text-anchor="middle" fill="#000" font-weight="normal" textLength="19.4" lengthAdjust="spacingAndGlyphs">160</text>
<line x1="233.3" y1="78.1" x2="268.4" y2="78.1" stroke="#333" stroke-width="0.8"/>
<line x1="256.5" y1="74" x2="256.5" y2="90.5" stroke="#333" stroke-width="0.8"/>
<polygon points="256.5,78.1 252.3,78.95 252.3,77.25" fill="#000"/>
<polygon points="260.2,78.1 264.4,77.25 264.4,78.95" fill="#000"/>
<text x="239.5" y="78" font-family="Liberation Serif" font-size="12.5" text-anchor="middle" fill="#000" font-weight="normal" textLength="12.6" lengthAdjust="spacingAndGlyphs">25</text>
<line x1="236.3" y1="292.2" x2="274" y2="292.2" stroke="#888" stroke-width="0.8"/>
<line x1="236.3" y1="327.2" x2="248.5" y2="327.2" stroke="#999" stroke-width="1.8"/>
<line x1="240.9" y1="292.2" x2="240.9" y2="327.2" stroke="#333" stroke-width="0.8"/>
<polygon points="240.9,292.2 241.75,296.4 240.05,296.4" fill="#000"/>
<polygon points="240.9,327.2 240.05,323 241.75,323" fill="#000"/>
<text x="239.7" y="308.8" font-family="Liberation Serif" font-size="12.5" text-anchor="middle" fill="#000" font-weight="normal" textLength="19" lengthAdjust="spacingAndGlyphs" transform="rotate(-90 239.7 308.8)">220</text>
<line x1="240.9" y1="329" x2="240.9" y2="342" stroke="#333" stroke-width="0.8"/>
<polygon points="240.9,329 241.75,333.2 240.05,333.2" fill="#000"/>
<text x="239.7" y="336" font-family="Liberation Serif" font-size="12.5" text-anchor="middle" fill="#000" font-weight="normal" textLength="6.2" lengthAdjust="spacingAndGlyphs" transform="rotate(-90 239.7 336)">5</text>
<line x1="233" y1="370.4" x2="256.5" y2="370.4" stroke="#333" stroke-width="0.8"/>
<line x1="237.6" y1="370.4" x2="237.6" y2="474.2" stroke="#333" stroke-width="0.8"/>
<polygon points="237.6,370.4 238.45,374.6 236.75,374.6" fill="#000"/>
<polygon points="237.6,474.2 236.75,470 238.45,470" fill="#000"/>
<text x="236.9" y="422.1" font-family="Liberation Serif" font-size="12.5" text-anchor="middle" fill="#000" font-weight="normal" textLength="19.2" lengthAdjust="spacingAndGlyphs" transform="rotate(-90 236.9 422.1)">660</text>
<line x1="126.1" y1="474.2" x2="126.1" y2="502.4" stroke="#333" stroke-width="0.8"/>
<polygon points="126.1,486.7 125.25,482.5 126.95,482.5" fill="#000"/>
<polygon points="126.1,486.7 126.95,490.9 125.25,490.9" fill="#000"/>
<polygon points="126.1,474.2 126.95,478.4 125.25,478.4" fill="#000"/>
<polygon points="126.1,502.4 125.25,498.2 126.95,498.2" fill="#000"/>
<text x="125.8" y="480.5" font-family="Liberation Serif" font-size="12.5" text-anchor="middle" fill="#000" font-weight="normal" textLength="12.4" lengthAdjust="spacingAndGlyphs" transform="rotate(-90 125.8 480.5)">80</text>
<text x="125.8" y="514.4" font-family="Liberation Serif" font-size="12.5" text-anchor="middle" fill="#000" font-weight="normal" textLength="18.6" lengthAdjust="spacingAndGlyphs" transform="rotate(-90 125.8 514.4)">100</text>
<line x1="138.5" y1="528.4" x2="728" y2="528.4" stroke="#333" stroke-width="0.8"/>
<polygon points="138.5,528.4 142.7,527.55 142.7,529.25" fill="#000"/>
<polygon points="248.5,528.4 244.3,529.25 244.3,527.55" fill="#000"/>
<polygon points="248.5,528.4 252.7,527.55 252.7,529.25" fill="#000"/>
<polygon points="728,528.4 723.8,529.25 723.8,527.55" fill="#000"/>
<text x="193.1" y="528.3" font-family="Liberation Serif" font-size="12.5" text-anchor="middle" fill="#000" font-weight="normal" textLength="19.3" lengthAdjust="spacingAndGlyphs">700</text>
<text x="487.9" y="527.8" font-family="Liberation Serif" font-size="12.5" text-anchor="middle" fill="#000" font-weight="normal" textLength="25.6" lengthAdjust="spacingAndGlyphs">3050</text>
<line x1="138.5" y1="543.2" x2="728" y2="543.2" stroke="#333" stroke-width="0.8"/>
<polygon points="138.5,543.2 142.7,542.35 142.7,544.05" fill="#000"/>
<polygon points="728,543.2 723.8,544.05 723.8,542.35" fill="#000"/>
<text x="433.2" y="542.7" font-family="Liberation Serif" font-size="12.5" text-anchor="middle" fill="#000" font-weight="normal" textLength="26.1" lengthAdjust="spacingAndGlyphs">3750</text>
<text x="172.5" y="120.8" font-family="Liberation Serif" font-size="12.5" text-anchor="start" fill="#000" font-weight="normal" textLength="49.3" lengthAdjust="spacingAndGlyphs">PS 41.409</text>
<line x1="172.5" y1="121.3" x2="221.8" y2="121.3" stroke="#222" stroke-width="0.75"/>
<line x1="221.3" y1="121.3" x2="261.7" y2="139" stroke="#222" stroke-width="0.7"/>
<text x="178.3" y="179.6" font-family="Liberation Serif" font-size="12.5" text-anchor="start" fill="#000" font-weight="normal" textLength="43.5" lengthAdjust="spacingAndGlyphs">50x50x3</text>
<line x1="178.3" y1="180.1" x2="221.8" y2="180.1" stroke="#222" stroke-width="0.75"/>
<line x1="221.3" y1="180.8" x2="253.4" y2="213.5" stroke="#222" stroke-width="0.7"/>
<text x="178.3" y="209" font-family="Liberation Serif" font-size="12.5" text-anchor="start" fill="#000" font-weight="normal" textLength="43.5" lengthAdjust="spacingAndGlyphs">20x20x1</text>
<line x1="178.3" y1="209.5" x2="221.8" y2="209.5" stroke="#222" stroke-width="0.75"/>
<line x1="221.3" y1="210.2" x2="260.4" y2="248.2" stroke="#222" stroke-width="0.7"/>
<text x="171.2" y="239.6" font-family="Liberation Serif" font-size="12.5" text-anchor="start" fill="#000" font-weight="normal" textLength="50.6" lengthAdjust="spacingAndGlyphs">PS 40.117</text>
<line x1="171.2" y1="240.1" x2="221.8" y2="240.1" stroke="#222" stroke-width="0.75"/>
<line x1="221.3" y1="240.8" x2="273.3" y2="304" stroke="#222" stroke-width="0.7"/>
<text x="170.7" y="326.4" font-family="Liberation Serif" font-size="12.5" text-anchor="start" fill="#000" font-weight="normal" textLength="43.6" lengthAdjust="spacingAndGlyphs">40x30x3</text>
<polyline points="166.8,320.2 163.2,320.2 163.2,326.4 166.8,326.4" fill="none" stroke="#666" stroke-width="0.9"/>
<line x1="160.6" y1="327.6" x2="247.7" y2="328.4" stroke="#444" stroke-width="0.7"/>
<line x1="247.7" y1="328.4" x2="262.4" y2="328.9" stroke="#444" stroke-width="0.7"/>
<text x="162.2" y="351.3" font-family="Liberation Serif" font-size="12.5" text-anchor="start" fill="#000" font-weight="normal" textLength="52.6" lengthAdjust="spacingAndGlyphs">50x30x1.5</text>
<line x1="162.2" y1="351.8" x2="214.8" y2="351.8" stroke="#999" stroke-width="0.75"/>
<line x1="214.3" y1="352.5" x2="266.4" y2="328.9" stroke="#222" stroke-width="0.7"/>
<line x1="214.3" y1="352.5" x2="252.6" y2="368" stroke="#222" stroke-width="0.7"/>
<text x="171.1" y="466.6" font-family="Liberation Serif" font-size="12.5" text-anchor="start" fill="#000" font-weight="normal" textLength="43.9" lengthAdjust="spacingAndGlyphs">80x80x4</text>
<line x1="171.1" y1="466.8" x2="215" y2="466.8" stroke="#ccc" stroke-width="0.75"/>
<line x1="214.5" y1="466.8" x2="236.5" y2="480.1" stroke="#222" stroke-width="0.7"/>
<text x="320.3" y="513.8" font-family="Liberation Serif" font-size="12.5" text-anchor="start" fill="#000" font-weight="normal" textLength="43.2" lengthAdjust="spacingAndGlyphs">50x20x2</text>
<line x1="320.3" y1="514.3" x2="363.5" y2="514.3" stroke="#222" stroke-width="0.75"/>
<line x1="363" y1="515" x2="370.9" y2="467.3" stroke="#222" stroke-width="0.7"/>
<text x="513.7" y="511.7" font-family="Liberation Serif" font-size="12.5" text-anchor="start" fill="#000" font-weight="normal" textLength="110.2" lengthAdjust="spacingAndGlyphs">tor ALU (powierzony)</text>
<line x1="513.7" y1="514.2" x2="623.9" y2="514.2" stroke="#222" stroke-width="0.75"/>
<line x1="514.2" y1="514.2" x2="509.3" y2="494.7" stroke="#222" stroke-width="0.7"/>
<text x="476.1" y="37.4" font-family="Liberation Serif" font-size="12.5" text-anchor="start" fill="#000" font-weight="normal" textLength="49.2" lengthAdjust="spacingAndGlyphs">PS 33.001</text>
<line x1="476.1" y1="37.9" x2="525.3" y2="37.9" stroke="#222" stroke-width="0.75"/>
<line x1="476.6" y1="37.9" x2="472.2" y2="104.8" stroke="#222" stroke-width="0.7"/>
<text x="483.1" y="46.7" font-family="Liberation Serif" font-size="12.5" text-anchor="start" fill="#000" font-weight="normal" textLength="40.1" lengthAdjust="spacingAndGlyphs">+ 14x14</text>
<text x="549.4" y="38.6" font-family="Liberation Serif" font-size="12.5" text-anchor="start" fill="#000" font-weight="normal" textLength="52.3" lengthAdjust="spacingAndGlyphs">50x30x1.5</text>
<line x1="549.4" y1="39.1" x2="601.7" y2="39.1" stroke="#222" stroke-width="0.75"/>
<line x1="549.9" y1="39.1" x2="546.3" y2="91" stroke="#222" stroke-width="0.7"/>
<line x1="549.9" y1="39.1" x2="550.4" y2="118.6" stroke="#222" stroke-width="0.7"/>
<text x="619.2" y="39.1" font-family="Liberation Serif" font-size="12.5" text-anchor="start" fill="#000" font-weight="normal" textLength="80.9" lengthAdjust="spacingAndGlyphs">PS 40.118-19szt</text>
<line x1="619.2" y1="39.6" x2="700.1" y2="39.6" stroke="#222" stroke-width="0.75"/>
<line x1="619.7" y1="39.6" x2="613.7" y2="66.2" stroke="#222" stroke-width="0.7"/>
<text x="56.6" y="77.9" font-family="Liberation Serif" font-size="12.5" text-anchor="middle" fill="#000" font-weight="normal" textLength="34.7" lengthAdjust="spacingAndGlyphs">Słupek</text>
<text x="57.2" y="91.4" font-family="Liberation Serif" font-size="12.5" text-anchor="middle" fill="#000" font-weight="normal" textLength="65.2" lengthAdjust="spacingAndGlyphs">prowadzenia</text>
<line x1="27.6" y1="98" x2="64.5" y2="98" stroke="#333" stroke-width="0.8"/>
<line x1="48.5" y1="98" x2="64.5" y2="98" stroke="#000" stroke-width="1"/>
<line x1="48.6" y1="98" x2="48.6" y2="128.4" stroke="#000" stroke-width="1.1"/>
<line x1="64.4" y1="98" x2="64.4" y2="129.4" stroke="#000" stroke-width="1.1"/>
<line x1="48.6" y1="132.4" x2="48.6" y2="200.6" stroke="#000" stroke-width="1.1"/>
<line x1="64.4" y1="132.7" x2="64.4" y2="200.6" stroke="#000" stroke-width="1.1"/>
<path d="M48.6,128.4 C50.5,127.2 53.5,127.0 56,128.5 S61.5,130.8 64.4,129.4" fill="none" stroke="#444" stroke-width="0.8"/>
<path d="M48.6,132.4 C50.5,131.2 53.5,131.0 56,132.5 S61.5,134.8 64.4,132.7" fill="none" stroke="#444" stroke-width="0.8"/>
<line x1="45.3" y1="200.6" x2="68.8" y2="200.6" stroke="#000" stroke-width="2"/>
<line x1="27" y1="200.6" x2="45.3" y2="200.6" stroke="#333" stroke-width="0.8"/>
<polyline points="32.4,98 32.4,123.9 37.6,127.8 26.6,132.1 32.4,136.1 32.4,200.6" fill="none" stroke="#333" stroke-width="0.8"/>
<polygon points="32,98 32.85,102.2 31.15,102.2" fill="#000"/>
<polygon points="32,200.6 31.15,196.4 32.85,196.4" fill="#000"/>
<text x="31" y="150.1" font-family="Liberation Serif" font-size="12.5" text-anchor="middle" fill="#000" font-weight="normal" textLength="25.2" lengthAdjust="spacingAndGlyphs" transform="rotate(-90 31 150.1)">1300</text>
<text x="70.6" y="193.9" font-family="Liberation Serif" font-size="12.5" text-anchor="start" fill="#000" font-weight="normal" textLength="55.5" lengthAdjust="spacingAndGlyphs">100x100x3</text>
<line x1="70.6" y1="194.7" x2="126.1" y2="194.7" stroke="#222" stroke-width="0.75"/>
<line x1="70.8" y1="194.7" x2="55.4" y2="174.3" stroke="#222" stroke-width="0.7"/>
<line x1="70.8" y1="194.7" x2="60.1" y2="239" stroke="#222" stroke-width="0.7"/>
<polygon points="55.6,174.4 58.78,177.27 57.42,178.28" fill="#000"/>
<rect x="43.5" y="226.2" width="26.6" height="26.5" fill="none" stroke="#000" stroke-width="1.15"/>
<rect x="48.6" y="231.6" width="15.9" height="15.5" fill="none" stroke="#000" stroke-width="1"/>
<circle cx="46.4" cy="229.7" r="1.0" fill="none" stroke="#000" stroke-width="0.8"/>
<circle cx="66.7" cy="229.7" r="1.0" fill="none" stroke="#000" stroke-width="0.8"/>
<circle cx="46.4" cy="249.4" r="1.0" fill="none" stroke="#000" stroke-width="0.8"/>
<circle cx="66.7" cy="249.4" r="1.0" fill="none" stroke="#000" stroke-width="0.8"/>
<line x1="27" y1="226.2" x2="43.5" y2="226.2" stroke="#333" stroke-width="0.8"/>
<line x1="27" y1="252.7" x2="43.5" y2="252.7" stroke="#333" stroke-width="0.8"/>
<line x1="32.2" y1="226.2" x2="32.2" y2="252.7" stroke="#333" stroke-width="0.8"/>
<polygon points="32.2,226.2 33.05,230.4 31.35,230.4" fill="#000"/>
<polygon points="32.2,252.7 31.35,248.5 33.05,248.5" fill="#000"/>
<text x="31.4" y="239.6" font-family="Liberation Serif" font-size="12.5" text-anchor="middle" fill="#000" font-weight="normal" textLength="19.3" lengthAdjust="spacingAndGlyphs" transform="rotate(-90 31.4 239.6)">170</text>
<line x1="43.5" y1="252.7" x2="43.5" y2="268.5" stroke="#333" stroke-width="0.8"/>
<line x1="70.1" y1="252.7" x2="70.1" y2="268.5" stroke="#333" stroke-width="0.8"/>
<line x1="43.5" y1="263.9" x2="70.1" y2="263.9" stroke="#333" stroke-width="0.8"/>
<polygon points="43.5,263.9 47.7,263.05 47.7,264.75" fill="#000"/>
<polygon points="70.1,263.9 65.9,264.75 65.9,263.05" fill="#000"/>
<text x="56.7" y="262.9" font-family="Liberation Serif" font-size="12.5" text-anchor="middle" fill="#000" font-weight="normal" textLength="18.6" lengthAdjust="spacingAndGlyphs">170</text>
<text x="85.5" y="247.3" font-family="Liberation Serif" font-size="12.5" text-anchor="start" fill="#000" font-weight="normal" textLength="6.9" lengthAdjust="spacingAndGlyphs">8</text>
<line x1="75.3" y1="247.3" x2="92" y2="247.3" stroke="#444" stroke-width="0.7"/>
<line x1="75.3" y1="247.3" x2="67.9" y2="235" stroke="#444" stroke-width="0.7"/>
<polygon points="67.9,235 70.79,238.16 69.33,239.04" fill="#000"/>
<polyline points="73.4,242.5 78.5,244.5 75.3,247.3" fill="none" stroke="#444" stroke-width="0.7"/>
<rect x="21" y="296.9" width="120.8" height="96.1" rx="1.5" fill="none" stroke="#000" stroke-width="2"/>
<text x="30.4" y="308.8" font-family="Liberation Serif" font-size="11.5" text-anchor="start" fill="#000" font-weight="normal" textLength="89.1" lengthAdjust="spacingAndGlyphs">- łapacz bramy do</text>
<text x="31" y="322.1" font-family="Liberation Serif" font-size="11.5" text-anchor="start" fill="#000" font-weight="normal" textLength="78.9" lengthAdjust="spacingAndGlyphs">klinkieru 50x50</text>
<text x="30.4" y="335.4" font-family="Liberation Serif" font-size="11.5" text-anchor="start" fill="#000" font-weight="normal" textLength="103.5" lengthAdjust="spacingAndGlyphs">- bez listew zębatych</text>
<text x="30.4" y="348.7" font-family="Liberation Serif" font-size="11.5" text-anchor="start" fill="#000" font-weight="normal" textLength="77.1" lengthAdjust="spacingAndGlyphs">- wkładka 31x9</text>
<text x="30.4" y="362" font-family="Liberation Serif" font-size="11.5" text-anchor="start" fill="#000" font-weight="normal" textLength="61.2" lengthAdjust="spacingAndGlyphs">- zamek ZB1</text>
<text x="30.4" y="375.3" font-family="Liberation Serif" font-size="11.5" text-anchor="start" fill="#000" font-weight="normal" textLength="65.2" lengthAdjust="spacingAndGlyphs">- brama lewa</text>
<text x="30.4" y="388.6" font-family="Liberation Serif" font-size="11.5" text-anchor="start" fill="#000" font-weight="normal" textLength="77.9" lengthAdjust="spacingAndGlyphs">- M8x20 - 22szt</text>
<polygon points="79.2,473.5 82.6,472.2 82.0,495.8 80.6,495.8" fill="#000"/>
<line x1="81" y1="474.4" x2="96" y2="474.4" stroke="#000" stroke-width="1.4"/>
<text x="88.3" y="487.4" font-family="Liberation Serif" font-size="14.5" text-anchor="middle" fill="#000" font-weight="normal" textLength="9.2" lengthAdjust="spacingAndGlyphs">A</text>
<polygon points="798.8,472.2 802.2,473.5 801.0,495.6 799.6,495.6" fill="#000"/>
<line x1="786.3" y1="474.4" x2="800.5" y2="474.4" stroke="#000" stroke-width="1.4"/>
<text x="793.8" y="487.4" font-family="Liberation Serif" font-size="14.5" text-anchor="middle" fill="#000" font-weight="normal" textLength="9.2" lengthAdjust="spacingAndGlyphs">A</text>
<text x="132.9" y="564.1" font-family="Liberation Serif" font-size="12.5" text-anchor="start" fill="#000" font-weight="normal" textLength="285.8" lengthAdjust="spacingAndGlyphs">rozstaw otworów gwintowanych pod M8 w profilu 80x80</text>
<text x="454.9" y="564.3" font-family="Liberation Serif" font-size="15" text-anchor="middle" fill="#000" font-weight="normal" textLength="24.9" lengthAdjust="spacingAndGlyphs">A-A</text>
<line x1="438.3" y1="565.9" x2="470" y2="565.9" stroke="#000" stroke-width="1.6"/>
<line x1="138.3" y1="569" x2="728" y2="569" stroke="#444" stroke-width="1.3"/>
<line x1="138.3" y1="572.1" x2="728" y2="572.1" stroke="#000" stroke-width="1"/>
<line x1="138.3" y1="584.8" x2="728" y2="584.8" stroke="#666" stroke-width="1.4"/>
<line x1="138.3" y1="587.8" x2="728" y2="587.8" stroke="#777" stroke-width="1.4"/>
<line x1="138.3" y1="569" x2="138.3" y2="603" stroke="#000" stroke-width="1.1"/>
<line x1="728" y1="569" x2="728" y2="603" stroke="#000" stroke-width="1.1"/>
<circle cx="154.03" cy="575" r="0.9" fill="#000"/>
<circle cx="154.03" cy="582" r="0.9" fill="#000"/>
<circle cx="169.75" cy="575" r="0.9" fill="#000"/>
<circle cx="169.75" cy="582" r="0.9" fill="#000"/>
<circle cx="185.48" cy="575" r="0.9" fill="#000"/>
<circle cx="185.48" cy="582" r="0.9" fill="#000"/>
<circle cx="287.69" cy="575" r="0.9" fill="#000"/>
<circle cx="287.69" cy="582" r="0.9" fill="#000"/>
<circle cx="366.32" cy="575" r="0.9" fill="#000"/>
<circle cx="366.32" cy="582" r="0.9" fill="#000"/>
<circle cx="444.94" cy="575" r="0.9" fill="#000"/>
<circle cx="444.94" cy="582" r="0.9" fill="#000"/>
<circle cx="523.57" cy="575" r="0.9" fill="#000"/>
<circle cx="523.57" cy="582" r="0.9" fill="#000"/>
<circle cx="602.2" cy="575" r="0.9" fill="#000"/>
<circle cx="602.2" cy="582" r="0.9" fill="#000"/>
<circle cx="680.82" cy="575" r="0.9" fill="#000"/>
<circle cx="680.82" cy="582" r="0.9" fill="#000"/>
<circle cx="696.55" cy="575" r="0.9" fill="#000"/>
<circle cx="696.55" cy="582" r="0.9" fill="#000"/>
<circle cx="712.27" cy="575" r="0.9" fill="#000"/>
<circle cx="712.27" cy="582" r="0.9" fill="#000"/>
<line x1="185.48" y1="582" x2="185.48" y2="603" stroke="#000" stroke-width="0.9"/>
<line x1="287.69" y1="582" x2="287.69" y2="603" stroke="#000" stroke-width="0.9"/>
<line x1="366.32" y1="582" x2="366.32" y2="603" stroke="#000" stroke-width="0.9"/>
<line x1="444.94" y1="582" x2="444.94" y2="603" stroke="#000" stroke-width="0.9"/>
<line x1="523.57" y1="582" x2="523.57" y2="603" stroke="#000" stroke-width="0.9"/>
<line x1="602.2" y1="582" x2="602.2" y2="603" stroke="#000" stroke-width="0.9"/>
<line x1="680.82" y1="582" x2="680.82" y2="603" stroke="#000" stroke-width="0.9"/>
<line x1="138.3" y1="598.3" x2="728" y2="598.3" stroke="#333" stroke-width="0.8"/>
<polygon points="138.3,598.3 142.5,597.45 142.5,599.15" fill="#000"/>
<polygon points="185.48,598.3 181.28,599.15 181.28,597.45" fill="#000"/>
<text x="161.89" y="598.2" font-family="Liberation Serif" font-size="12.5" text-anchor="middle" fill="#000" font-weight="normal" textLength="31.3" lengthAdjust="spacingAndGlyphs">3x100</text>
<polygon points="185.48,598.3 189.68,597.45 189.68,599.15" fill="#000"/>
<polygon points="287.69,598.3 283.49,599.15 283.49,597.45" fill="#000"/>
<text x="236.58" y="598.2" font-family="Liberation Serif" font-size="12.5" text-anchor="middle" fill="#000" font-weight="normal" textLength="19.6" lengthAdjust="spacingAndGlyphs">650</text>
<polygon points="287.69,598.3 291.89,597.45 291.89,599.15" fill="#000"/>
<polygon points="366.32,598.3 362.12,599.15 362.12,597.45" fill="#000"/>
<text x="327" y="598.2" font-family="Liberation Serif" font-size="12.5" text-anchor="middle" fill="#000" font-weight="normal" textLength="19.6" lengthAdjust="spacingAndGlyphs">500</text>
<polygon points="366.32,598.3 370.52,597.45 370.52,599.15" fill="#000"/>
<polygon points="444.94,598.3 440.74,599.15 440.74,597.45" fill="#000"/>
<text x="405.63" y="598.2" font-family="Liberation Serif" font-size="12.5" text-anchor="middle" fill="#000" font-weight="normal" textLength="19.6" lengthAdjust="spacingAndGlyphs">500</text>
<polygon points="444.94,598.3 449.14,597.45 449.14,599.15" fill="#000"/>
<polygon points="523.57,598.3 519.37,599.15 519.37,597.45" fill="#000"/>
<text x="484.26" y="598.2" font-family="Liberation Serif" font-size="12.5" text-anchor="middle" fill="#000" font-weight="normal" textLength="19.6" lengthAdjust="spacingAndGlyphs">500</text>
<polygon points="523.57,598.3 527.77,597.45 527.77,599.15" fill="#000"/>
<polygon points="602.2,598.3 598,599.15 598,597.45" fill="#000"/>
<text x="562.88" y="598.2" font-family="Liberation Serif" font-size="12.5" text-anchor="middle" fill="#000" font-weight="normal" textLength="19.6" lengthAdjust="spacingAndGlyphs">500</text>
<polygon points="602.2,598.3 606.4,597.45 606.4,599.15" fill="#000"/>
<polygon points="680.82,598.3 676.62,599.15 676.62,597.45" fill="#000"/>
<text x="641.51" y="598.2" font-family="Liberation Serif" font-size="12.5" text-anchor="middle" fill="#000" font-weight="normal" textLength="19.6" lengthAdjust="spacingAndGlyphs">500</text>
<polygon points="680.82,598.3 685.02,597.45 685.02,599.15" fill="#000"/>
<polygon points="728,598.3 723.8,599.15 723.8,597.45" fill="#000"/>
<text x="704.41" y="598.2" font-family="Liberation Serif" font-size="12.5" text-anchor="middle" fill="#000" font-weight="normal" textLength="31.3" lengthAdjust="spacingAndGlyphs">3x100</text>
<line x1="117.5" y1="574.6" x2="154" y2="574.6" stroke="#888" stroke-width="0.8"/>
<line x1="117.5" y1="582.2" x2="154" y2="582.2" stroke="#888" stroke-width="0.8"/>
<line x1="122.3" y1="566" x2="122.3" y2="590" stroke="#333" stroke-width="0.8"/>
<polygon points="122.3,575 121.45,570.8 123.15,570.8" fill="#000"/>
<polygon points="122.3,582 123.15,586.2 121.45,586.2" fill="#000"/>
<text x="121.7" y="594.5" font-family="Liberation Serif" font-size="12.5" text-anchor="middle" fill="#000" font-weight="normal" textLength="12.6" lengthAdjust="spacingAndGlyphs" transform="rotate(-90 121.7 594.5)">46</text>
<line x1="740.5" y1="565.6" x2="754.7" y2="565.6" stroke="#000" stroke-width="1.3"/>
<line x1="740.5" y1="590.6" x2="754.7" y2="590.6" stroke="#000" stroke-width="1.3"/>
<path d="M740.5,564 C742,570 738,574 739,579 C740,584 737,588 740.5,593" fill="none" stroke="#777" stroke-width="0.7"/>
<path d="M783,562.7 C781,559 776,559.3 771,559.3 L759,559.3 C756.5,559.3 755.2,561 755.2,563.5 L755.2,593.8 C755.2,596.3 756.5,597.9 759,597.9 L771,597.9 C776,597.9 781,598 783,594.2" fill="none" stroke="#000" stroke-width="1.1"/>
<path d="M781,564.5 C779,561.8 775,561.7 771,561.7 L760,561.7 C758.5,561.7 757.8,563 757.8,564.5 L757.8,592.5 C757.8,594.5 758.5,595.5 760,595.5 L771,595.5 C775,595.5 779,595.2 781,592.6" fill="none" stroke="#000" stroke-width="1.0"/>
<circle cx="784.2" cy="565.3" r="2.5" fill="none" stroke="#000" stroke-width="1.1"/>
<circle cx="784.2" cy="591.5" r="2.5" fill="none" stroke="#000" stroke-width="1.1"/>
<rect x="756.2" y="565" width="1.6" height="26" fill="#555"/>
<line x1="749.8" y1="571.3" x2="764.5" y2="571.3" stroke="#555" stroke-width="0.7"/>
<line x1="749.8" y1="585.4" x2="764.5" y2="585.4" stroke="#555" stroke-width="0.7"/>
</svg>
</body></html>
